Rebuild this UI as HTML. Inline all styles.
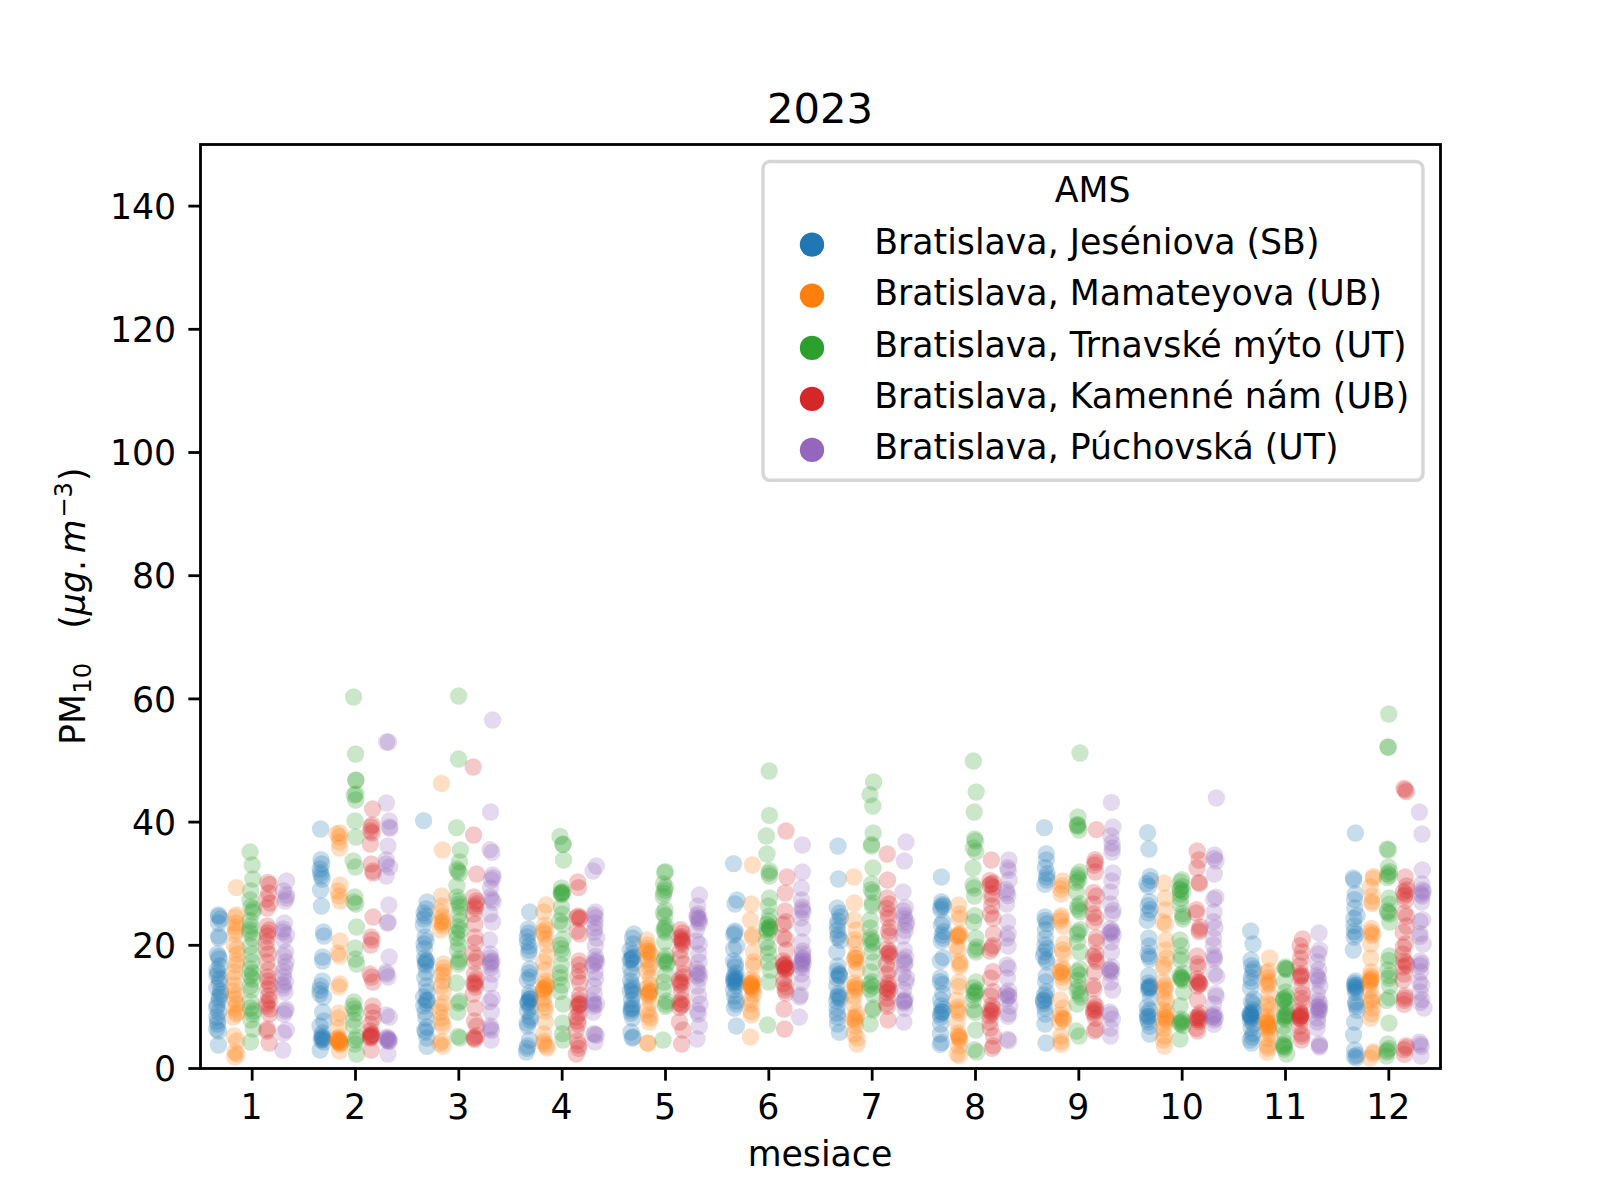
<!DOCTYPE html>
<html lang="sk"><head><meta charset="utf-8"><title>2023</title>
<style>
html,body{margin:0;padding:0;background:#fff}
body{width:1600px;height:1200px;overflow:hidden}
svg{display:block}
text{font-family:"DejaVu Sans","Liberation Sans",sans-serif;fill:#000}
.t{font-size:34.722px}
.d circle{fill-opacity:0.250}
</style></head><body>
<svg width="1600" height="1200" viewBox="0 0 1600 1200">
<rect width="1600" height="1200" fill="#fff"/>
<clipPath id="ax"><rect x="200" y="144" width="1240" height="924"/></clipPath>
<g clip-path="url(#ax)">
<g class="d" fill="#1f77b4"><circle cx="218.4" cy="915.0" r="8.68"/><circle cx="218.8" cy="916.4" r="8.68"/><circle cx="220.3" cy="919.0" r="8.68"/><circle cx="218.5" cy="923.0" r="8.68"/><circle cx="218.6" cy="936.0" r="8.68"/><circle cx="218.9" cy="938.0" r="8.68"/><circle cx="217.3" cy="954.0" r="8.68"/><circle cx="218.6" cy="956.4" r="8.68"/><circle cx="219.1" cy="959.0" r="8.68"/><circle cx="219.8" cy="966.0" r="8.68"/><circle cx="217.0" cy="970.0" r="8.68"/><circle cx="217.8" cy="973.0" r="8.68"/><circle cx="217.0" cy="976.0" r="8.68"/><circle cx="219.8" cy="979.0" r="8.68"/><circle cx="219.4" cy="983.0" r="8.68"/><circle cx="216.8" cy="988.0" r="8.68"/><circle cx="220.5" cy="991.0" r="8.68"/><circle cx="220.5" cy="994.0" r="8.68"/><circle cx="219.2" cy="997.0" r="8.68"/><circle cx="219.1" cy="1000.0" r="8.68"/><circle cx="217.2" cy="1005.0" r="8.68"/><circle cx="216.7" cy="1008.0" r="8.68"/><circle cx="218.7" cy="1012.0" r="8.68"/><circle cx="216.8" cy="1017.0" r="8.68"/><circle cx="217.4" cy="1021.0" r="8.68"/><circle cx="217.6" cy="1024.0" r="8.68"/><circle cx="216.7" cy="1029.0" r="8.68"/><circle cx="218.5" cy="1031.0" r="8.68"/><circle cx="218.4" cy="1045.0" r="8.68"/><circle cx="320.6" cy="829.0" r="8.68"/><circle cx="321.0" cy="859.6" r="8.68"/><circle cx="321.7" cy="864.0" r="8.68"/><circle cx="320.2" cy="869.0" r="8.68"/><circle cx="320.6" cy="873.0" r="8.68"/><circle cx="321.4" cy="876.0" r="8.68"/><circle cx="322.2" cy="879.0" r="8.68"/><circle cx="320.5" cy="890.0" r="8.68"/><circle cx="321.4" cy="906.0" r="8.68"/><circle cx="323.5" cy="932.0" r="8.68"/><circle cx="323.9" cy="936.0" r="8.68"/><circle cx="322.6" cy="957.0" r="8.68"/><circle cx="322.7" cy="961.0" r="8.68"/><circle cx="322.3" cy="981.0" r="8.68"/><circle cx="320.5" cy="986.0" r="8.68"/><circle cx="320.1" cy="990.0" r="8.68"/><circle cx="320.0" cy="994.0" r="8.68"/><circle cx="323.6" cy="997.0" r="8.68"/><circle cx="322.7" cy="1012.0" r="8.68"/><circle cx="323.8" cy="1021.0" r="8.68"/><circle cx="320.0" cy="1026.0" r="8.68"/><circle cx="322.5" cy="1033.0" r="8.68"/><circle cx="321.9" cy="1036.0" r="8.68"/><circle cx="322.9" cy="1038.0" r="8.68"/><circle cx="321.2" cy="1040.0" r="8.68"/><circle cx="323.9" cy="1042.0" r="8.68"/><circle cx="320.2" cy="1050.0" r="8.68"/><circle cx="322.1" cy="1037.6" r="8.68"/><circle cx="322.9" cy="1039.6" r="8.68"/><circle cx="423.6" cy="820.6" r="8.68"/><circle cx="427.1" cy="902.0" r="8.68"/><circle cx="426.0" cy="909.0" r="8.68"/><circle cx="424.1" cy="913.0" r="8.68"/><circle cx="425.2" cy="916.0" r="8.68"/><circle cx="424.0" cy="919.0" r="8.68"/><circle cx="423.3" cy="925.0" r="8.68"/><circle cx="425.2" cy="937.0" r="8.68"/><circle cx="426.1" cy="941.0" r="8.68"/><circle cx="424.0" cy="944.0" r="8.68"/><circle cx="424.4" cy="949.0" r="8.68"/><circle cx="424.6" cy="958.0" r="8.68"/><circle cx="426.1" cy="960.4" r="8.68"/><circle cx="425.3" cy="963.0" r="8.68"/><circle cx="425.7" cy="965.0" r="8.68"/><circle cx="426.3" cy="972.0" r="8.68"/><circle cx="424.8" cy="978.0" r="8.68"/><circle cx="426.4" cy="986.0" r="8.68"/><circle cx="426.9" cy="992.0" r="8.68"/><circle cx="423.6" cy="997.0" r="8.68"/><circle cx="427.0" cy="1000.0" r="8.68"/><circle cx="426.2" cy="1003.0" r="8.68"/><circle cx="423.8" cy="1006.0" r="8.68"/><circle cx="425.1" cy="1012.0" r="8.68"/><circle cx="425.8" cy="1018.0" r="8.68"/><circle cx="426.9" cy="1027.0" r="8.68"/><circle cx="424.8" cy="1030.0" r="8.68"/><circle cx="425.5" cy="1032.0" r="8.68"/><circle cx="426.8" cy="1038.0" r="8.68"/><circle cx="427.0" cy="1046.4" r="8.68"/><circle cx="426.5" cy="961.2" r="8.68"/><circle cx="427.0" cy="1000.4" r="8.68"/><circle cx="529.6" cy="912.0" r="8.68"/><circle cx="528.3" cy="929.0" r="8.68"/><circle cx="528.7" cy="933.0" r="8.68"/><circle cx="527.2" cy="937.0" r="8.68"/><circle cx="527.4" cy="942.0" r="8.68"/><circle cx="529.1" cy="946.0" r="8.68"/><circle cx="529.2" cy="950.0" r="8.68"/><circle cx="528.7" cy="953.0" r="8.68"/><circle cx="530.0" cy="969.0" r="8.68"/><circle cx="529.0" cy="973.0" r="8.68"/><circle cx="530.0" cy="977.0" r="8.68"/><circle cx="527.5" cy="980.0" r="8.68"/><circle cx="529.6" cy="993.0" r="8.68"/><circle cx="529.8" cy="996.4" r="8.68"/><circle cx="530.2" cy="999.0" r="8.68"/><circle cx="527.9" cy="1001.6" r="8.68"/><circle cx="527.9" cy="1004.0" r="8.68"/><circle cx="530.3" cy="1007.0" r="8.68"/><circle cx="527.5" cy="1011.0" r="8.68"/><circle cx="530.6" cy="1017.0" r="8.68"/><circle cx="530.2" cy="1020.0" r="8.68"/><circle cx="527.1" cy="1023.0" r="8.68"/><circle cx="527.6" cy="1026.0" r="8.68"/><circle cx="529.5" cy="1040.0" r="8.68"/><circle cx="527.6" cy="1046.0" r="8.68"/><circle cx="527.0" cy="1048.4" r="8.68"/><circle cx="526.4" cy="1052.0" r="8.68"/><circle cx="529.9" cy="999.0" r="8.68"/><circle cx="528.3" cy="1002.0" r="8.68"/><circle cx="633.9" cy="934.0" r="8.68"/><circle cx="632.5" cy="938.0" r="8.68"/><circle cx="633.2" cy="944.0" r="8.68"/><circle cx="630.2" cy="950.0" r="8.68"/><circle cx="632.3" cy="954.0" r="8.68"/><circle cx="633.0" cy="957.0" r="8.68"/><circle cx="630.1" cy="960.0" r="8.68"/><circle cx="633.7" cy="963.0" r="8.68"/><circle cx="630.6" cy="968.4" r="8.68"/><circle cx="631.8" cy="974.0" r="8.68"/><circle cx="630.6" cy="981.0" r="8.68"/><circle cx="631.9" cy="985.0" r="8.68"/><circle cx="632.4" cy="988.0" r="8.68"/><circle cx="630.2" cy="991.0" r="8.68"/><circle cx="633.7" cy="994.0" r="8.68"/><circle cx="631.6" cy="1000.0" r="8.68"/><circle cx="632.0" cy="1005.0" r="8.68"/><circle cx="632.3" cy="1008.0" r="8.68"/><circle cx="631.4" cy="1010.4" r="8.68"/><circle cx="631.1" cy="1013.0" r="8.68"/><circle cx="632.6" cy="1018.0" r="8.68"/><circle cx="631.0" cy="1032.0" r="8.68"/><circle cx="633.0" cy="1037.0" r="8.68"/><circle cx="632.2" cy="1038.0" r="8.68"/><circle cx="632.2" cy="958.0" r="8.68"/><circle cx="631.1" cy="959.6" r="8.68"/><circle cx="632.8" cy="990.4" r="8.68"/><circle cx="631.1" cy="1008.4" r="8.68"/><circle cx="733.6" cy="863.6" r="8.68"/><circle cx="737.0" cy="900.0" r="8.68"/><circle cx="735.0" cy="904.0" r="8.68"/><circle cx="735.0" cy="931.0" r="8.68"/><circle cx="734.7" cy="933.0" r="8.68"/><circle cx="733.7" cy="935.0" r="8.68"/><circle cx="736.8" cy="946.0" r="8.68"/><circle cx="733.6" cy="949.0" r="8.68"/><circle cx="733.6" cy="961.0" r="8.68"/><circle cx="735.5" cy="964.0" r="8.68"/><circle cx="735.2" cy="967.0" r="8.68"/><circle cx="736.0" cy="973.0" r="8.68"/><circle cx="734.5" cy="976.0" r="8.68"/><circle cx="736.4" cy="978.4" r="8.68"/><circle cx="733.6" cy="981.0" r="8.68"/><circle cx="734.1" cy="983.0" r="8.68"/><circle cx="735.9" cy="985.6" r="8.68"/><circle cx="733.6" cy="990.0" r="8.68"/><circle cx="734.5" cy="996.0" r="8.68"/><circle cx="736.2" cy="1001.0" r="8.68"/><circle cx="736.0" cy="1004.0" r="8.68"/><circle cx="734.4" cy="1008.0" r="8.68"/><circle cx="736.4" cy="1026.0" r="8.68"/><circle cx="733.8" cy="978.0" r="8.68"/><circle cx="734.7" cy="980.0" r="8.68"/><circle cx="736.2" cy="982.0" r="8.68"/><circle cx="838.0" cy="846.0" r="8.68"/><circle cx="838.4" cy="879.0" r="8.68"/><circle cx="837.2" cy="908.0" r="8.68"/><circle cx="839.6" cy="913.0" r="8.68"/><circle cx="840.6" cy="917.0" r="8.68"/><circle cx="838.1" cy="921.0" r="8.68"/><circle cx="837.3" cy="925.0" r="8.68"/><circle cx="837.4" cy="930.0" r="8.68"/><circle cx="838.3" cy="935.0" r="8.68"/><circle cx="837.8" cy="937.6" r="8.68"/><circle cx="840.5" cy="940.4" r="8.68"/><circle cx="836.8" cy="952.0" r="8.68"/><circle cx="837.8" cy="966.0" r="8.68"/><circle cx="837.1" cy="971.0" r="8.68"/><circle cx="839.2" cy="973.6" r="8.68"/><circle cx="839.7" cy="976.0" r="8.68"/><circle cx="837.3" cy="978.4" r="8.68"/><circle cx="836.8" cy="986.0" r="8.68"/><circle cx="838.4" cy="993.6" r="8.68"/><circle cx="838.9" cy="996.0" r="8.68"/><circle cx="840.2" cy="998.4" r="8.68"/><circle cx="836.7" cy="1001.0" r="8.68"/><circle cx="837.0" cy="1008.0" r="8.68"/><circle cx="837.3" cy="1013.0" r="8.68"/><circle cx="837.5" cy="1017.0" r="8.68"/><circle cx="837.5" cy="1024.0" r="8.68"/><circle cx="839.5" cy="1032.4" r="8.68"/><circle cx="839.0" cy="975.0" r="8.68"/><circle cx="837.5" cy="997.0" r="8.68"/><circle cx="941.4" cy="877.0" r="8.68"/><circle cx="941.5" cy="901.6" r="8.68"/><circle cx="942.6" cy="904.4" r="8.68"/><circle cx="941.0" cy="907.0" r="8.68"/><circle cx="940.7" cy="909.6" r="8.68"/><circle cx="942.9" cy="922.0" r="8.68"/><circle cx="941.3" cy="925.0" r="8.68"/><circle cx="943.7" cy="931.6" r="8.68"/><circle cx="942.2" cy="935.0" r="8.68"/><circle cx="942.8" cy="938.0" r="8.68"/><circle cx="941.3" cy="941.0" r="8.68"/><circle cx="943.2" cy="957.6" r="8.68"/><circle cx="940.3" cy="961.0" r="8.68"/><circle cx="940.5" cy="977.6" r="8.68"/><circle cx="940.3" cy="981.6" r="8.68"/><circle cx="942.6" cy="984.4" r="8.68"/><circle cx="942.8" cy="993.6" r="8.68"/><circle cx="940.7" cy="1000.0" r="8.68"/><circle cx="941.5" cy="1005.6" r="8.68"/><circle cx="943.3" cy="1009.0" r="8.68"/><circle cx="942.3" cy="1012.0" r="8.68"/><circle cx="940.3" cy="1014.4" r="8.68"/><circle cx="940.8" cy="1017.0" r="8.68"/><circle cx="940.6" cy="1024.0" r="8.68"/><circle cx="940.4" cy="1034.0" r="8.68"/><circle cx="941.6" cy="1042.4" r="8.68"/><circle cx="940.2" cy="1044.4" r="8.68"/><circle cx="943.6" cy="906.0" r="8.68"/><circle cx="941.6" cy="1012.0" r="8.68"/><circle cx="1044.4" cy="827.6" r="8.68"/><circle cx="1046.3" cy="853.6" r="8.68"/><circle cx="1046.3" cy="860.0" r="8.68"/><circle cx="1045.2" cy="867.6" r="8.68"/><circle cx="1047.2" cy="873.6" r="8.68"/><circle cx="1046.6" cy="877.0" r="8.68"/><circle cx="1046.7" cy="880.0" r="8.68"/><circle cx="1044.9" cy="884.4" r="8.68"/><circle cx="1045.0" cy="917.0" r="8.68"/><circle cx="1045.5" cy="920.4" r="8.68"/><circle cx="1046.9" cy="923.6" r="8.68"/><circle cx="1045.4" cy="930.0" r="8.68"/><circle cx="1045.4" cy="938.0" r="8.68"/><circle cx="1045.0" cy="945.0" r="8.68"/><circle cx="1046.9" cy="948.4" r="8.68"/><circle cx="1044.5" cy="952.0" r="8.68"/><circle cx="1043.5" cy="956.0" r="8.68"/><circle cx="1046.2" cy="959.6" r="8.68"/><circle cx="1046.9" cy="962.0" r="8.68"/><circle cx="1046.2" cy="976.0" r="8.68"/><circle cx="1045.7" cy="982.0" r="8.68"/><circle cx="1046.3" cy="991.6" r="8.68"/><circle cx="1044.5" cy="995.0" r="8.68"/><circle cx="1045.6" cy="998.0" r="8.68"/><circle cx="1043.5" cy="1001.0" r="8.68"/><circle cx="1043.8" cy="1003.6" r="8.68"/><circle cx="1045.1" cy="1008.4" r="8.68"/><circle cx="1045.3" cy="1014.0" r="8.68"/><circle cx="1044.9" cy="1024.0" r="8.68"/><circle cx="1046.0" cy="1043.0" r="8.68"/><circle cx="1043.5" cy="1000.0" r="8.68"/><circle cx="1147.6" cy="832.6" r="8.68"/><circle cx="1149.0" cy="849.0" r="8.68"/><circle cx="1150.2" cy="876.4" r="8.68"/><circle cx="1150.6" cy="880.4" r="8.68"/><circle cx="1146.7" cy="883.6" r="8.68"/><circle cx="1148.4" cy="886.4" r="8.68"/><circle cx="1149.6" cy="901.6" r="8.68"/><circle cx="1148.1" cy="905.6" r="8.68"/><circle cx="1150.3" cy="909.6" r="8.68"/><circle cx="1148.6" cy="913.0" r="8.68"/><circle cx="1147.3" cy="920.4" r="8.68"/><circle cx="1148.8" cy="938.0" r="8.68"/><circle cx="1149.2" cy="946.0" r="8.68"/><circle cx="1148.0" cy="953.6" r="8.68"/><circle cx="1149.2" cy="956.4" r="8.68"/><circle cx="1149.7" cy="959.0" r="8.68"/><circle cx="1148.7" cy="975.6" r="8.68"/><circle cx="1148.6" cy="983.0" r="8.68"/><circle cx="1150.0" cy="985.6" r="8.68"/><circle cx="1149.3" cy="988.0" r="8.68"/><circle cx="1148.7" cy="990.4" r="8.68"/><circle cx="1150.4" cy="998.0" r="8.68"/><circle cx="1147.3" cy="1007.0" r="8.68"/><circle cx="1149.7" cy="1010.4" r="8.68"/><circle cx="1147.3" cy="1013.6" r="8.68"/><circle cx="1149.0" cy="1016.4" r="8.68"/><circle cx="1147.5" cy="1019.0" r="8.68"/><circle cx="1148.4" cy="1022.0" r="8.68"/><circle cx="1149.7" cy="1026.4" r="8.68"/><circle cx="1149.7" cy="1034.0" r="8.68"/><circle cx="1149.8" cy="987.0" r="8.68"/><circle cx="1147.5" cy="1016.4" r="8.68"/><circle cx="1148.6" cy="987.6" r="8.68"/><circle cx="1250.7" cy="931.0" r="8.68"/><circle cx="1253.0" cy="944.0" r="8.68"/><circle cx="1251.0" cy="960.0" r="8.68"/><circle cx="1251.5" cy="965.6" r="8.68"/><circle cx="1253.6" cy="969.0" r="8.68"/><circle cx="1252.8" cy="972.0" r="8.68"/><circle cx="1251.0" cy="977.6" r="8.68"/><circle cx="1251.4" cy="981.6" r="8.68"/><circle cx="1250.5" cy="988.0" r="8.68"/><circle cx="1253.7" cy="999.0" r="8.68"/><circle cx="1251.4" cy="1002.0" r="8.68"/><circle cx="1253.0" cy="1004.4" r="8.68"/><circle cx="1252.8" cy="1009.6" r="8.68"/><circle cx="1253.6" cy="1012.0" r="8.68"/><circle cx="1250.0" cy="1014.0" r="8.68"/><circle cx="1251.2" cy="1016.0" r="8.68"/><circle cx="1251.5" cy="1018.0" r="8.68"/><circle cx="1250.3" cy="1020.4" r="8.68"/><circle cx="1253.5" cy="1024.0" r="8.68"/><circle cx="1251.2" cy="1028.0" r="8.68"/><circle cx="1253.0" cy="1033.6" r="8.68"/><circle cx="1252.0" cy="1037.0" r="8.68"/><circle cx="1250.2" cy="1040.0" r="8.68"/><circle cx="1251.5" cy="1043.0" r="8.68"/><circle cx="1250.9" cy="1013.0" r="8.68"/><circle cx="1250.1" cy="1015.0" r="8.68"/><circle cx="1250.5" cy="1017.0" r="8.68"/><circle cx="1355.4" cy="833.0" r="8.68"/><circle cx="1353.4" cy="878.0" r="8.68"/><circle cx="1353.8" cy="880.0" r="8.68"/><circle cx="1355.3" cy="894.0" r="8.68"/><circle cx="1354.5" cy="899.6" r="8.68"/><circle cx="1354.7" cy="908.0" r="8.68"/><circle cx="1357.2" cy="915.6" r="8.68"/><circle cx="1353.9" cy="918.4" r="8.68"/><circle cx="1354.0" cy="925.6" r="8.68"/><circle cx="1354.2" cy="931.6" r="8.68"/><circle cx="1356.0" cy="934.4" r="8.68"/><circle cx="1354.2" cy="937.2" r="8.68"/><circle cx="1353.3" cy="950.0" r="8.68"/><circle cx="1355.4" cy="981.0" r="8.68"/><circle cx="1354.8" cy="983.2" r="8.68"/><circle cx="1354.2" cy="985.4" r="8.68"/><circle cx="1355.2" cy="987.6" r="8.68"/><circle cx="1355.9" cy="989.6" r="8.68"/><circle cx="1355.5" cy="992.4" r="8.68"/><circle cx="1355.8" cy="1001.6" r="8.68"/><circle cx="1355.5" cy="1004.0" r="8.68"/><circle cx="1356.6" cy="1006.4" r="8.68"/><circle cx="1357.1" cy="1010.4" r="8.68"/><circle cx="1354.6" cy="1022.0" r="8.68"/><circle cx="1353.6" cy="1035.0" r="8.68"/><circle cx="1354.7" cy="1050.0" r="8.68"/><circle cx="1356.8" cy="1055.0" r="8.68"/><circle cx="1354.5" cy="1056.4" r="8.68"/><circle cx="1356.1" cy="1058.0" r="8.68"/><circle cx="1356.0" cy="985.0" r="8.68"/><circle cx="1356.0" cy="987.0" r="8.68"/></g>
<g class="d" fill="#ff7f0e"><circle cx="236.4" cy="887.6" r="8.68"/><circle cx="236.5" cy="915.0" r="8.68"/><circle cx="235.2" cy="917.0" r="8.68"/><circle cx="235.7" cy="923.0" r="8.68"/><circle cx="235.1" cy="927.0" r="8.68"/><circle cx="235.8" cy="931.0" r="8.68"/><circle cx="235.0" cy="934.0" r="8.68"/><circle cx="234.2" cy="945.0" r="8.68"/><circle cx="237.1" cy="949.0" r="8.68"/><circle cx="237.1" cy="954.0" r="8.68"/><circle cx="236.5" cy="961.0" r="8.68"/><circle cx="236.0" cy="965.0" r="8.68"/><circle cx="234.4" cy="972.0" r="8.68"/><circle cx="234.1" cy="978.0" r="8.68"/><circle cx="234.3" cy="985.0" r="8.68"/><circle cx="233.4" cy="991.0" r="8.68"/><circle cx="236.2" cy="995.0" r="8.68"/><circle cx="234.7" cy="999.0" r="8.68"/><circle cx="236.5" cy="1004.0" r="8.68"/><circle cx="234.7" cy="1008.0" r="8.68"/><circle cx="237.0" cy="1012.0" r="8.68"/><circle cx="236.5" cy="1014.0" r="8.68"/><circle cx="233.1" cy="1017.0" r="8.68"/><circle cx="234.0" cy="1036.0" r="8.68"/><circle cx="236.8" cy="1041.0" r="8.68"/><circle cx="235.0" cy="1052.0" r="8.68"/><circle cx="237.1" cy="1054.0" r="8.68"/><circle cx="234.7" cy="1057.0" r="8.68"/><circle cx="340.1" cy="833.0" r="8.68"/><circle cx="339.4" cy="837.0" r="8.68"/><circle cx="339.3" cy="842.0" r="8.68"/><circle cx="339.6" cy="848.0" r="8.68"/><circle cx="340.1" cy="885.0" r="8.68"/><circle cx="337.9" cy="891.0" r="8.68"/><circle cx="339.2" cy="896.0" r="8.68"/><circle cx="340.1" cy="901.0" r="8.68"/><circle cx="340.0" cy="941.0" r="8.68"/><circle cx="338.1" cy="953.0" r="8.68"/><circle cx="339.6" cy="956.0" r="8.68"/><circle cx="339.9" cy="984.0" r="8.68"/><circle cx="338.8" cy="987.0" r="8.68"/><circle cx="339.0" cy="1013.0" r="8.68"/><circle cx="338.0" cy="1018.0" r="8.68"/><circle cx="338.8" cy="1028.0" r="8.68"/><circle cx="338.9" cy="1037.0" r="8.68"/><circle cx="336.8" cy="1039.0" r="8.68"/><circle cx="339.0" cy="1041.0" r="8.68"/><circle cx="340.4" cy="1043.0" r="8.68"/><circle cx="340.0" cy="1044.0" r="8.68"/><circle cx="339.4" cy="1051.0" r="8.68"/><circle cx="338.0" cy="1039.0" r="8.68"/><circle cx="339.4" cy="1040.0" r="8.68"/><circle cx="338.8" cy="1041.0" r="8.68"/><circle cx="338.2" cy="1042.0" r="8.68"/><circle cx="339.8" cy="1043.0" r="8.68"/><circle cx="336.8" cy="833.6" r="8.68"/><circle cx="441.4" cy="783.4" r="8.68"/><circle cx="442.4" cy="850.0" r="8.68"/><circle cx="441.7" cy="896.0" r="8.68"/><circle cx="442.4" cy="906.0" r="8.68"/><circle cx="440.6" cy="912.0" r="8.68"/><circle cx="442.7" cy="917.0" r="8.68"/><circle cx="443.1" cy="921.0" r="8.68"/><circle cx="442.4" cy="923.0" r="8.68"/><circle cx="442.7" cy="926.0" r="8.68"/><circle cx="440.7" cy="930.0" r="8.68"/><circle cx="443.4" cy="964.0" r="8.68"/><circle cx="443.7" cy="968.0" r="8.68"/><circle cx="443.7" cy="972.0" r="8.68"/><circle cx="441.9" cy="975.0" r="8.68"/><circle cx="443.0" cy="981.0" r="8.68"/><circle cx="441.1" cy="986.0" r="8.68"/><circle cx="443.4" cy="992.0" r="8.68"/><circle cx="443.2" cy="1003.0" r="8.68"/><circle cx="441.2" cy="1007.0" r="8.68"/><circle cx="440.1" cy="1012.0" r="8.68"/><circle cx="441.6" cy="1018.0" r="8.68"/><circle cx="442.0" cy="1023.0" r="8.68"/><circle cx="442.9" cy="1026.0" r="8.68"/><circle cx="441.7" cy="1041.0" r="8.68"/><circle cx="439.9" cy="1043.6" r="8.68"/><circle cx="443.0" cy="1046.0" r="8.68"/><circle cx="440.1" cy="922.4" r="8.68"/><circle cx="546.3" cy="905.0" r="8.68"/><circle cx="543.6" cy="912.0" r="8.68"/><circle cx="544.7" cy="925.0" r="8.68"/><circle cx="545.9" cy="929.0" r="8.68"/><circle cx="543.2" cy="931.6" r="8.68"/><circle cx="543.9" cy="934.0" r="8.68"/><circle cx="545.9" cy="939.0" r="8.68"/><circle cx="546.8" cy="945.0" r="8.68"/><circle cx="547.0" cy="956.0" r="8.68"/><circle cx="543.6" cy="962.0" r="8.68"/><circle cx="545.2" cy="970.0" r="8.68"/><circle cx="546.2" cy="981.0" r="8.68"/><circle cx="545.1" cy="984.0" r="8.68"/><circle cx="545.9" cy="986.4" r="8.68"/><circle cx="543.9" cy="989.0" r="8.68"/><circle cx="543.4" cy="992.0" r="8.68"/><circle cx="543.6" cy="998.0" r="8.68"/><circle cx="543.3" cy="1003.6" r="8.68"/><circle cx="545.3" cy="1007.0" r="8.68"/><circle cx="545.2" cy="1011.0" r="8.68"/><circle cx="545.4" cy="1022.0" r="8.68"/><circle cx="543.7" cy="1034.0" r="8.68"/><circle cx="543.9" cy="1041.0" r="8.68"/><circle cx="543.9" cy="1043.6" r="8.68"/><circle cx="546.5" cy="1046.0" r="8.68"/><circle cx="547.1" cy="1048.0" r="8.68"/><circle cx="546.8" cy="986.4" r="8.68"/><circle cx="543.5" cy="988.4" r="8.68"/><circle cx="543.4" cy="990.4" r="8.68"/><circle cx="646.5" cy="940.0" r="8.68"/><circle cx="647.4" cy="945.0" r="8.68"/><circle cx="646.6" cy="948.4" r="8.68"/><circle cx="647.1" cy="951.6" r="8.68"/><circle cx="649.5" cy="954.4" r="8.68"/><circle cx="648.0" cy="960.0" r="8.68"/><circle cx="650.1" cy="964.0" r="8.68"/><circle cx="649.5" cy="967.6" r="8.68"/><circle cx="646.7" cy="971.0" r="8.68"/><circle cx="650.4" cy="978.4" r="8.68"/><circle cx="650.2" cy="985.0" r="8.68"/><circle cx="646.8" cy="988.4" r="8.68"/><circle cx="650.1" cy="991.0" r="8.68"/><circle cx="648.2" cy="993.6" r="8.68"/><circle cx="648.4" cy="996.0" r="8.68"/><circle cx="650.4" cy="1002.0" r="8.68"/><circle cx="647.4" cy="1010.0" r="8.68"/><circle cx="648.6" cy="1015.0" r="8.68"/><circle cx="650.2" cy="1018.0" r="8.68"/><circle cx="649.4" cy="1022.0" r="8.68"/><circle cx="647.6" cy="1043.0" r="8.68"/><circle cx="648.0" cy="1043.2" r="8.68"/><circle cx="648.3" cy="951.0" r="8.68"/><circle cx="650.4" cy="953.0" r="8.68"/><circle cx="649.7" cy="991.6" r="8.68"/><circle cx="648.9" cy="993.6" r="8.68"/><circle cx="752.4" cy="865.0" r="8.68"/><circle cx="751.3" cy="904.0" r="8.68"/><circle cx="750.3" cy="920.0" r="8.68"/><circle cx="752.6" cy="935.0" r="8.68"/><circle cx="752.1" cy="937.0" r="8.68"/><circle cx="753.5" cy="952.0" r="8.68"/><circle cx="753.6" cy="962.0" r="8.68"/><circle cx="753.5" cy="966.0" r="8.68"/><circle cx="751.6" cy="979.0" r="8.68"/><circle cx="753.0" cy="981.6" r="8.68"/><circle cx="751.0" cy="983.6" r="8.68"/><circle cx="751.1" cy="985.6" r="8.68"/><circle cx="751.4" cy="987.6" r="8.68"/><circle cx="753.5" cy="989.6" r="8.68"/><circle cx="753.4" cy="994.0" r="8.68"/><circle cx="750.8" cy="999.6" r="8.68"/><circle cx="751.2" cy="1004.0" r="8.68"/><circle cx="751.3" cy="1011.6" r="8.68"/><circle cx="751.3" cy="1015.0" r="8.68"/><circle cx="750.4" cy="1037.0" r="8.68"/><circle cx="751.4" cy="983.0" r="8.68"/><circle cx="751.4" cy="984.4" r="8.68"/><circle cx="750.6" cy="986.0" r="8.68"/><circle cx="752.1" cy="987.6" r="8.68"/><circle cx="853.9" cy="877.0" r="8.68"/><circle cx="854.3" cy="903.0" r="8.68"/><circle cx="853.8" cy="920.0" r="8.68"/><circle cx="856.2" cy="930.0" r="8.68"/><circle cx="854.4" cy="939.6" r="8.68"/><circle cx="855.3" cy="943.6" r="8.68"/><circle cx="856.4" cy="955.0" r="8.68"/><circle cx="855.1" cy="957.6" r="8.68"/><circle cx="854.2" cy="960.0" r="8.68"/><circle cx="856.7" cy="962.4" r="8.68"/><circle cx="856.8" cy="970.0" r="8.68"/><circle cx="854.5" cy="983.0" r="8.68"/><circle cx="855.3" cy="985.6" r="8.68"/><circle cx="857.0" cy="988.0" r="8.68"/><circle cx="855.1" cy="990.0" r="8.68"/><circle cx="854.0" cy="996.4" r="8.68"/><circle cx="853.3" cy="1004.0" r="8.68"/><circle cx="856.9" cy="1013.0" r="8.68"/><circle cx="856.3" cy="1016.4" r="8.68"/><circle cx="854.7" cy="1019.0" r="8.68"/><circle cx="855.2" cy="1021.6" r="8.68"/><circle cx="855.2" cy="1026.0" r="8.68"/><circle cx="854.2" cy="1034.0" r="8.68"/><circle cx="857.1" cy="1038.0" r="8.68"/><circle cx="857.0" cy="1044.0" r="8.68"/><circle cx="855.8" cy="958.4" r="8.68"/><circle cx="854.1" cy="987.2" r="8.68"/><circle cx="853.2" cy="1018.0" r="8.68"/><circle cx="958.5" cy="905.0" r="8.68"/><circle cx="959.1" cy="914.0" r="8.68"/><circle cx="959.5" cy="918.4" r="8.68"/><circle cx="959.8" cy="933.6" r="8.68"/><circle cx="958.0" cy="934.8" r="8.68"/><circle cx="957.8" cy="936.0" r="8.68"/><circle cx="958.1" cy="937.2" r="8.68"/><circle cx="956.5" cy="946.0" r="8.68"/><circle cx="958.1" cy="950.4" r="8.68"/><circle cx="959.3" cy="961.6" r="8.68"/><circle cx="960.4" cy="964.0" r="8.68"/><circle cx="959.6" cy="966.4" r="8.68"/><circle cx="959.1" cy="982.0" r="8.68"/><circle cx="958.9" cy="986.4" r="8.68"/><circle cx="956.5" cy="1000.0" r="8.68"/><circle cx="957.8" cy="1007.0" r="8.68"/><circle cx="957.8" cy="1010.0" r="8.68"/><circle cx="959.1" cy="1013.0" r="8.68"/><circle cx="956.9" cy="1022.0" r="8.68"/><circle cx="958.0" cy="1033.0" r="8.68"/><circle cx="958.5" cy="1035.6" r="8.68"/><circle cx="959.6" cy="1038.0" r="8.68"/><circle cx="959.8" cy="1040.0" r="8.68"/><circle cx="958.9" cy="1046.0" r="8.68"/><circle cx="957.1" cy="1054.0" r="8.68"/><circle cx="959.5" cy="1055.6" r="8.68"/><circle cx="960.1" cy="935.2" r="8.68"/><circle cx="958.7" cy="1037.0" r="8.68"/><circle cx="1062.6" cy="881.0" r="8.68"/><circle cx="1061.9" cy="885.6" r="8.68"/><circle cx="1060.8" cy="889.0" r="8.68"/><circle cx="1061.0" cy="894.0" r="8.68"/><circle cx="1061.4" cy="915.6" r="8.68"/><circle cx="1060.7" cy="918.0" r="8.68"/><circle cx="1060.1" cy="921.0" r="8.68"/><circle cx="1063.4" cy="926.4" r="8.68"/><circle cx="1063.7" cy="943.6" r="8.68"/><circle cx="1062.5" cy="950.0" r="8.68"/><circle cx="1063.3" cy="954.0" r="8.68"/><circle cx="1061.5" cy="967.0" r="8.68"/><circle cx="1063.0" cy="969.6" r="8.68"/><circle cx="1060.7" cy="972.0" r="8.68"/><circle cx="1062.8" cy="974.4" r="8.68"/><circle cx="1062.1" cy="977.0" r="8.68"/><circle cx="1063.4" cy="982.4" r="8.68"/><circle cx="1060.2" cy="1000.0" r="8.68"/><circle cx="1063.0" cy="1008.0" r="8.68"/><circle cx="1060.3" cy="1015.0" r="8.68"/><circle cx="1062.0" cy="1017.6" r="8.68"/><circle cx="1063.6" cy="1020.0" r="8.68"/><circle cx="1059.8" cy="1022.0" r="8.68"/><circle cx="1060.8" cy="1036.0" r="8.68"/><circle cx="1061.0" cy="1041.6" r="8.68"/><circle cx="1061.1" cy="1044.4" r="8.68"/><circle cx="1060.1" cy="972.0" r="8.68"/><circle cx="1063.4" cy="1019.0" r="8.68"/><circle cx="1164.0" cy="883.0" r="8.68"/><circle cx="1165.5" cy="898.0" r="8.68"/><circle cx="1165.1" cy="910.0" r="8.68"/><circle cx="1163.3" cy="922.0" r="8.68"/><circle cx="1165.5" cy="924.0" r="8.68"/><circle cx="1166.0" cy="940.0" r="8.68"/><circle cx="1165.4" cy="950.0" r="8.68"/><circle cx="1166.6" cy="958.0" r="8.68"/><circle cx="1163.9" cy="965.0" r="8.68"/><circle cx="1163.7" cy="967.6" r="8.68"/><circle cx="1163.2" cy="981.6" r="8.68"/><circle cx="1165.1" cy="985.0" r="8.68"/><circle cx="1164.9" cy="988.0" r="8.68"/><circle cx="1164.9" cy="991.0" r="8.68"/><circle cx="1164.2" cy="998.0" r="8.68"/><circle cx="1166.3" cy="1002.0" r="8.68"/><circle cx="1163.4" cy="1009.6" r="8.68"/><circle cx="1166.8" cy="1012.4" r="8.68"/><circle cx="1165.4" cy="1015.2" r="8.68"/><circle cx="1165.3" cy="1018.0" r="8.68"/><circle cx="1166.3" cy="1020.8" r="8.68"/><circle cx="1164.1" cy="1023.6" r="8.68"/><circle cx="1163.7" cy="1028.4" r="8.68"/><circle cx="1164.4" cy="1036.0" r="8.68"/><circle cx="1163.3" cy="1040.0" r="8.68"/><circle cx="1164.4" cy="1046.0" r="8.68"/><circle cx="1165.6" cy="1018.0" r="8.68"/><circle cx="1269.6" cy="958.0" r="8.68"/><circle cx="1268.8" cy="971.0" r="8.68"/><circle cx="1266.6" cy="973.0" r="8.68"/><circle cx="1267.7" cy="978.0" r="8.68"/><circle cx="1268.2" cy="981.6" r="8.68"/><circle cx="1268.6" cy="983.6" r="8.68"/><circle cx="1267.0" cy="985.6" r="8.68"/><circle cx="1269.3" cy="994.0" r="8.68"/><circle cx="1267.5" cy="1003.0" r="8.68"/><circle cx="1269.4" cy="1005.2" r="8.68"/><circle cx="1269.1" cy="1010.0" r="8.68"/><circle cx="1267.1" cy="1017.0" r="8.68"/><circle cx="1267.3" cy="1020.0" r="8.68"/><circle cx="1267.6" cy="1022.4" r="8.68"/><circle cx="1269.3" cy="1025.0" r="8.68"/><circle cx="1268.1" cy="1027.6" r="8.68"/><circle cx="1268.0" cy="1030.0" r="8.68"/><circle cx="1269.9" cy="1034.0" r="8.68"/><circle cx="1267.4" cy="1038.4" r="8.68"/><circle cx="1267.6" cy="1045.6" r="8.68"/><circle cx="1267.8" cy="1048.0" r="8.68"/><circle cx="1267.3" cy="1052.0" r="8.68"/><circle cx="1266.6" cy="1024.0" r="8.68"/><circle cx="1266.6" cy="1022.0" r="8.68"/><circle cx="1269.0" cy="1026.4" r="8.68"/><circle cx="1373.7" cy="876.4" r="8.68"/><circle cx="1373.1" cy="878.4" r="8.68"/><circle cx="1370.4" cy="887.0" r="8.68"/><circle cx="1372.3" cy="896.0" r="8.68"/><circle cx="1371.8" cy="901.6" r="8.68"/><circle cx="1372.1" cy="903.6" r="8.68"/><circle cx="1371.3" cy="928.4" r="8.68"/><circle cx="1370.9" cy="931.6" r="8.68"/><circle cx="1372.8" cy="933.6" r="8.68"/><circle cx="1371.9" cy="935.6" r="8.68"/><circle cx="1370.7" cy="944.0" r="8.68"/><circle cx="1370.8" cy="958.0" r="8.68"/><circle cx="1371.1" cy="972.0" r="8.68"/><circle cx="1370.5" cy="976.0" r="8.68"/><circle cx="1371.9" cy="978.0" r="8.68"/><circle cx="1370.3" cy="980.0" r="8.68"/><circle cx="1370.1" cy="982.0" r="8.68"/><circle cx="1370.1" cy="984.0" r="8.68"/><circle cx="1370.2" cy="990.4" r="8.68"/><circle cx="1372.6" cy="997.6" r="8.68"/><circle cx="1370.3" cy="1000.0" r="8.68"/><circle cx="1371.6" cy="1002.4" r="8.68"/><circle cx="1372.9" cy="1008.0" r="8.68"/><circle cx="1371.7" cy="1014.0" r="8.68"/><circle cx="1370.5" cy="1018.4" r="8.68"/><circle cx="1373.3" cy="1051.6" r="8.68"/><circle cx="1373.3" cy="1053.6" r="8.68"/><circle cx="1370.0" cy="1058.0" r="8.68"/><circle cx="1370.8" cy="980.0" r="8.68"/></g>
<g class="d" fill="#2ca02c"><circle cx="250.0" cy="852.0" r="8.68"/><circle cx="252.2" cy="865.0" r="8.68"/><circle cx="252.8" cy="879.0" r="8.68"/><circle cx="250.7" cy="891.0" r="8.68"/><circle cx="250.0" cy="900.0" r="8.68"/><circle cx="251.0" cy="907.0" r="8.68"/><circle cx="253.5" cy="909.0" r="8.68"/><circle cx="252.7" cy="912.0" r="8.68"/><circle cx="250.1" cy="921.0" r="8.68"/><circle cx="250.7" cy="926.0" r="8.68"/><circle cx="250.1" cy="930.0" r="8.68"/><circle cx="249.9" cy="933.0" r="8.68"/><circle cx="252.9" cy="938.0" r="8.68"/><circle cx="250.4" cy="946.0" r="8.68"/><circle cx="251.9" cy="954.0" r="8.68"/><circle cx="251.5" cy="962.0" r="8.68"/><circle cx="250.4" cy="969.0" r="8.68"/><circle cx="252.6" cy="973.0" r="8.68"/><circle cx="250.2" cy="976.0" r="8.68"/><circle cx="252.2" cy="979.0" r="8.68"/><circle cx="250.1" cy="986.0" r="8.68"/><circle cx="251.3" cy="990.0" r="8.68"/><circle cx="250.5" cy="1002.0" r="8.68"/><circle cx="250.7" cy="1008.0" r="8.68"/><circle cx="253.6" cy="1011.0" r="8.68"/><circle cx="252.9" cy="1014.0" r="8.68"/><circle cx="250.9" cy="1020.0" r="8.68"/><circle cx="253.2" cy="1029.0" r="8.68"/><circle cx="250.5" cy="1042.0" r="8.68"/><circle cx="353.6" cy="697.0" r="8.68"/><circle cx="355.6" cy="754.0" r="8.68"/><circle cx="355.8" cy="780.0" r="8.68"/><circle cx="356.0" cy="780.4" r="8.68"/><circle cx="356.0" cy="794.0" r="8.68"/><circle cx="354.2" cy="795.0" r="8.68"/><circle cx="355.6" cy="800.0" r="8.68"/><circle cx="355.0" cy="821.0" r="8.68"/><circle cx="356.0" cy="837.0" r="8.68"/><circle cx="353.1" cy="861.0" r="8.68"/><circle cx="355.4" cy="867.0" r="8.68"/><circle cx="354.9" cy="897.0" r="8.68"/><circle cx="353.9" cy="902.0" r="8.68"/><circle cx="355.8" cy="904.0" r="8.68"/><circle cx="356.6" cy="927.0" r="8.68"/><circle cx="355.0" cy="948.0" r="8.68"/><circle cx="355.5" cy="959.0" r="8.68"/><circle cx="356.7" cy="964.0" r="8.68"/><circle cx="354.0" cy="1002.0" r="8.68"/><circle cx="353.0" cy="1006.0" r="8.68"/><circle cx="354.2" cy="1009.0" r="8.68"/><circle cx="355.7" cy="1013.0" r="8.68"/><circle cx="353.8" cy="1020.0" r="8.68"/><circle cx="353.7" cy="1026.0" r="8.68"/><circle cx="356.6" cy="1037.0" r="8.68"/><circle cx="355.6" cy="1040.0" r="8.68"/><circle cx="354.8" cy="1044.0" r="8.68"/><circle cx="356.6" cy="1054.0" r="8.68"/><circle cx="458.6" cy="696.0" r="8.68"/><circle cx="458.6" cy="759.0" r="8.68"/><circle cx="456.6" cy="827.6" r="8.68"/><circle cx="460.4" cy="850.0" r="8.68"/><circle cx="459.5" cy="862.0" r="8.68"/><circle cx="457.0" cy="869.0" r="8.68"/><circle cx="457.7" cy="871.0" r="8.68"/><circle cx="459.5" cy="873.0" r="8.68"/><circle cx="456.9" cy="886.0" r="8.68"/><circle cx="456.9" cy="897.0" r="8.68"/><circle cx="458.4" cy="901.0" r="8.68"/><circle cx="459.2" cy="904.0" r="8.68"/><circle cx="459.7" cy="907.0" r="8.68"/><circle cx="459.1" cy="914.0" r="8.68"/><circle cx="460.1" cy="921.0" r="8.68"/><circle cx="458.3" cy="927.0" r="8.68"/><circle cx="460.1" cy="930.0" r="8.68"/><circle cx="456.7" cy="933.0" r="8.68"/><circle cx="457.2" cy="938.0" r="8.68"/><circle cx="458.4" cy="944.0" r="8.68"/><circle cx="457.5" cy="950.0" r="8.68"/><circle cx="459.2" cy="959.0" r="8.68"/><circle cx="458.9" cy="961.6" r="8.68"/><circle cx="458.4" cy="964.0" r="8.68"/><circle cx="456.4" cy="983.0" r="8.68"/><circle cx="459.7" cy="1001.0" r="8.68"/><circle cx="458.6" cy="1003.0" r="8.68"/><circle cx="457.6" cy="1012.0" r="8.68"/><circle cx="457.9" cy="1036.4" r="8.68"/><circle cx="459.7" cy="1038.0" r="8.68"/><circle cx="560.0" cy="836.4" r="8.68"/><circle cx="563.2" cy="844.0" r="8.68"/><circle cx="562.8" cy="844.6" r="8.68"/><circle cx="563.5" cy="860.0" r="8.68"/><circle cx="561.5" cy="888.0" r="8.68"/><circle cx="562.7" cy="891.6" r="8.68"/><circle cx="561.0" cy="892.6" r="8.68"/><circle cx="561.5" cy="893.6" r="8.68"/><circle cx="561.7" cy="894.6" r="8.68"/><circle cx="561.4" cy="907.0" r="8.68"/><circle cx="562.1" cy="914.0" r="8.68"/><circle cx="559.7" cy="921.0" r="8.68"/><circle cx="562.5" cy="924.4" r="8.68"/><circle cx="563.0" cy="939.0" r="8.68"/><circle cx="560.4" cy="945.0" r="8.68"/><circle cx="561.5" cy="949.0" r="8.68"/><circle cx="562.6" cy="953.6" r="8.68"/><circle cx="561.3" cy="965.0" r="8.68"/><circle cx="560.4" cy="973.0" r="8.68"/><circle cx="560.3" cy="977.6" r="8.68"/><circle cx="561.7" cy="985.0" r="8.68"/><circle cx="559.7" cy="991.6" r="8.68"/><circle cx="563.2" cy="1004.0" r="8.68"/><circle cx="562.9" cy="1023.0" r="8.68"/><circle cx="562.5" cy="1033.6" r="8.68"/><circle cx="563.1" cy="1040.0" r="8.68"/><circle cx="562.2" cy="892.8" r="8.68"/><circle cx="665.4" cy="871.6" r="8.68"/><circle cx="664.6" cy="872.4" r="8.68"/><circle cx="663.5" cy="883.6" r="8.68"/><circle cx="665.5" cy="887.0" r="8.68"/><circle cx="664.8" cy="890.0" r="8.68"/><circle cx="663.8" cy="893.0" r="8.68"/><circle cx="663.2" cy="896.4" r="8.68"/><circle cx="665.1" cy="909.6" r="8.68"/><circle cx="663.5" cy="913.0" r="8.68"/><circle cx="664.8" cy="916.0" r="8.68"/><circle cx="665.7" cy="925.6" r="8.68"/><circle cx="664.8" cy="928.0" r="8.68"/><circle cx="664.0" cy="930.0" r="8.68"/><circle cx="665.3" cy="932.0" r="8.68"/><circle cx="664.7" cy="942.0" r="8.68"/><circle cx="666.1" cy="955.6" r="8.68"/><circle cx="665.1" cy="959.0" r="8.68"/><circle cx="667.0" cy="962.0" r="8.68"/><circle cx="666.8" cy="964.0" r="8.68"/><circle cx="665.9" cy="974.0" r="8.68"/><circle cx="664.0" cy="982.0" r="8.68"/><circle cx="663.5" cy="990.0" r="8.68"/><circle cx="666.6" cy="1001.0" r="8.68"/><circle cx="666.1" cy="1004.0" r="8.68"/><circle cx="665.5" cy="1006.4" r="8.68"/><circle cx="663.0" cy="1040.0" r="8.68"/><circle cx="664.4" cy="961.2" r="8.68"/><circle cx="769.2" cy="771.0" r="8.68"/><circle cx="769.4" cy="815.4" r="8.68"/><circle cx="766.4" cy="836.0" r="8.68"/><circle cx="767.0" cy="854.0" r="8.68"/><circle cx="769.6" cy="870.8" r="8.68"/><circle cx="769.0" cy="873.2" r="8.68"/><circle cx="769.6" cy="876.0" r="8.68"/><circle cx="769.5" cy="898.0" r="8.68"/><circle cx="768.5" cy="906.0" r="8.68"/><circle cx="769.7" cy="916.0" r="8.68"/><circle cx="768.6" cy="921.0" r="8.68"/><circle cx="767.0" cy="924.4" r="8.68"/><circle cx="769.4" cy="927.0" r="8.68"/><circle cx="769.9" cy="929.6" r="8.68"/><circle cx="767.5" cy="932.0" r="8.68"/><circle cx="766.4" cy="942.0" r="8.68"/><circle cx="768.4" cy="947.6" r="8.68"/><circle cx="768.5" cy="953.6" r="8.68"/><circle cx="768.6" cy="962.0" r="8.68"/><circle cx="770.2" cy="970.0" r="8.68"/><circle cx="768.9" cy="982.0" r="8.68"/><circle cx="767.6" cy="1025.0" r="8.68"/><circle cx="769.6" cy="927.6" r="8.68"/><circle cx="766.6" cy="929.2" r="8.68"/><circle cx="873.6" cy="782.0" r="8.68"/><circle cx="870.0" cy="794.6" r="8.68"/><circle cx="872.8" cy="806.0" r="8.68"/><circle cx="873.2" cy="833.0" r="8.68"/><circle cx="871.6" cy="844.4" r="8.68"/><circle cx="871.4" cy="846.0" r="8.68"/><circle cx="873.0" cy="868.0" r="8.68"/><circle cx="871.6" cy="884.0" r="8.68"/><circle cx="871.2" cy="889.6" r="8.68"/><circle cx="872.9" cy="892.4" r="8.68"/><circle cx="872.5" cy="903.0" r="8.68"/><circle cx="872.1" cy="905.6" r="8.68"/><circle cx="870.3" cy="920.0" r="8.68"/><circle cx="870.3" cy="928.0" r="8.68"/><circle cx="871.0" cy="937.0" r="8.68"/><circle cx="870.7" cy="939.6" r="8.68"/><circle cx="873.1" cy="942.0" r="8.68"/><circle cx="871.7" cy="944.4" r="8.68"/><circle cx="872.2" cy="952.0" r="8.68"/><circle cx="873.6" cy="962.0" r="8.68"/><circle cx="870.7" cy="972.0" r="8.68"/><circle cx="871.8" cy="981.6" r="8.68"/><circle cx="870.3" cy="984.0" r="8.68"/><circle cx="872.7" cy="986.4" r="8.68"/><circle cx="869.7" cy="989.0" r="8.68"/><circle cx="873.0" cy="994.0" r="8.68"/><circle cx="873.1" cy="1008.0" r="8.68"/><circle cx="873.0" cy="1010.0" r="8.68"/><circle cx="870.0" cy="1024.0" r="8.68"/><circle cx="973.4" cy="761.0" r="8.68"/><circle cx="976.2" cy="792.0" r="8.68"/><circle cx="974.2" cy="812.0" r="8.68"/><circle cx="974.6" cy="839.0" r="8.68"/><circle cx="975.4" cy="841.0" r="8.68"/><circle cx="973.4" cy="848.0" r="8.68"/><circle cx="975.8" cy="851.6" r="8.68"/><circle cx="973.0" cy="868.0" r="8.68"/><circle cx="973.0" cy="885.0" r="8.68"/><circle cx="974.2" cy="888.0" r="8.68"/><circle cx="974.4" cy="896.0" r="8.68"/><circle cx="975.0" cy="915.6" r="8.68"/><circle cx="973.6" cy="922.0" r="8.68"/><circle cx="975.9" cy="938.0" r="8.68"/><circle cx="976.9" cy="947.0" r="8.68"/><circle cx="975.1" cy="949.6" r="8.68"/><circle cx="975.9" cy="952.0" r="8.68"/><circle cx="976.3" cy="982.0" r="8.68"/><circle cx="973.8" cy="987.6" r="8.68"/><circle cx="976.8" cy="990.4" r="8.68"/><circle cx="975.5" cy="993.0" r="8.68"/><circle cx="973.8" cy="995.0" r="8.68"/><circle cx="973.3" cy="1000.0" r="8.68"/><circle cx="974.0" cy="1009.6" r="8.68"/><circle cx="975.3" cy="1012.4" r="8.68"/><circle cx="975.8" cy="1030.0" r="8.68"/><circle cx="974.3" cy="1049.6" r="8.68"/><circle cx="976.7" cy="1052.0" r="8.68"/><circle cx="974.4" cy="992.0" r="8.68"/><circle cx="1080.0" cy="753.0" r="8.68"/><circle cx="1078.0" cy="817.0" r="8.68"/><circle cx="1077.6" cy="824.4" r="8.68"/><circle cx="1077.2" cy="825.4" r="8.68"/><circle cx="1078.0" cy="826.4" r="8.68"/><circle cx="1079.0" cy="830.0" r="8.68"/><circle cx="1079.6" cy="872.0" r="8.68"/><circle cx="1077.9" cy="875.0" r="8.68"/><circle cx="1077.8" cy="877.6" r="8.68"/><circle cx="1078.7" cy="880.0" r="8.68"/><circle cx="1076.5" cy="882.4" r="8.68"/><circle cx="1076.5" cy="892.0" r="8.68"/><circle cx="1079.9" cy="903.6" r="8.68"/><circle cx="1077.6" cy="906.4" r="8.68"/><circle cx="1078.3" cy="909.2" r="8.68"/><circle cx="1080.1" cy="911.6" r="8.68"/><circle cx="1080.2" cy="929.6" r="8.68"/><circle cx="1078.2" cy="932.0" r="8.68"/><circle cx="1077.2" cy="934.4" r="8.68"/><circle cx="1077.5" cy="942.0" r="8.68"/><circle cx="1080.0" cy="952.0" r="8.68"/><circle cx="1079.9" cy="969.0" r="8.68"/><circle cx="1077.1" cy="971.6" r="8.68"/><circle cx="1079.7" cy="975.0" r="8.68"/><circle cx="1077.7" cy="980.4" r="8.68"/><circle cx="1078.2" cy="987.6" r="8.68"/><circle cx="1077.0" cy="991.0" r="8.68"/><circle cx="1079.9" cy="994.0" r="8.68"/><circle cx="1080.3" cy="997.0" r="8.68"/><circle cx="1077.1" cy="1004.0" r="8.68"/><circle cx="1076.4" cy="1031.0" r="8.68"/><circle cx="1079.0" cy="1036.0" r="8.68"/><circle cx="1181.8" cy="879.6" r="8.68"/><circle cx="1180.7" cy="882.0" r="8.68"/><circle cx="1182.0" cy="886.4" r="8.68"/><circle cx="1180.0" cy="889.0" r="8.68"/><circle cx="1182.9" cy="891.6" r="8.68"/><circle cx="1180.4" cy="894.0" r="8.68"/><circle cx="1180.7" cy="898.4" r="8.68"/><circle cx="1180.3" cy="904.0" r="8.68"/><circle cx="1182.4" cy="913.6" r="8.68"/><circle cx="1183.0" cy="916.4" r="8.68"/><circle cx="1182.8" cy="919.0" r="8.68"/><circle cx="1179.9" cy="940.0" r="8.68"/><circle cx="1181.3" cy="946.0" r="8.68"/><circle cx="1181.1" cy="955.6" r="8.68"/><circle cx="1180.5" cy="960.0" r="8.68"/><circle cx="1183.5" cy="973.0" r="8.68"/><circle cx="1179.8" cy="975.6" r="8.68"/><circle cx="1181.6" cy="978.0" r="8.68"/><circle cx="1182.7" cy="980.4" r="8.68"/><circle cx="1183.6" cy="992.0" r="8.68"/><circle cx="1180.2" cy="1005.6" r="8.68"/><circle cx="1181.5" cy="1019.0" r="8.68"/><circle cx="1182.6" cy="1021.0" r="8.68"/><circle cx="1179.8" cy="1022.4" r="8.68"/><circle cx="1180.6" cy="1024.0" r="8.68"/><circle cx="1183.2" cy="1025.6" r="8.68"/><circle cx="1180.0" cy="1039.0" r="8.68"/><circle cx="1180.2" cy="890.0" r="8.68"/><circle cx="1181.2" cy="977.2" r="8.68"/><circle cx="1180.9" cy="978.8" r="8.68"/><circle cx="1181.4" cy="1022.4" r="8.68"/><circle cx="1285.3" cy="967.0" r="8.68"/><circle cx="1286.2" cy="968.4" r="8.68"/><circle cx="1286.9" cy="969.6" r="8.68"/><circle cx="1284.2" cy="982.0" r="8.68"/><circle cx="1285.7" cy="992.0" r="8.68"/><circle cx="1286.7" cy="997.0" r="8.68"/><circle cx="1283.9" cy="999.2" r="8.68"/><circle cx="1285.8" cy="1001.6" r="8.68"/><circle cx="1285.7" cy="1008.0" r="8.68"/><circle cx="1286.8" cy="1013.0" r="8.68"/><circle cx="1286.5" cy="1015.6" r="8.68"/><circle cx="1283.9" cy="1017.6" r="8.68"/><circle cx="1285.5" cy="1019.6" r="8.68"/><circle cx="1283.4" cy="1026.0" r="8.68"/><circle cx="1284.7" cy="1034.0" r="8.68"/><circle cx="1284.6" cy="1043.0" r="8.68"/><circle cx="1283.2" cy="1045.0" r="8.68"/><circle cx="1284.5" cy="1047.0" r="8.68"/><circle cx="1284.3" cy="1049.0" r="8.68"/><circle cx="1286.6" cy="1054.0" r="8.68"/><circle cx="1285.0" cy="968.8" r="8.68"/><circle cx="1284.1" cy="998.4" r="8.68"/><circle cx="1283.6" cy="1000.4" r="8.68"/><circle cx="1284.6" cy="1015.0" r="8.68"/><circle cx="1284.9" cy="1017.0" r="8.68"/><circle cx="1283.7" cy="1046.0" r="8.68"/><circle cx="1388.8" cy="714.0" r="8.68"/><circle cx="1388.0" cy="747.0" r="8.68"/><circle cx="1388.2" cy="747.2" r="8.68"/><circle cx="1387.2" cy="849.0" r="8.68"/><circle cx="1388.4" cy="850.0" r="8.68"/><circle cx="1388.4" cy="867.0" r="8.68"/><circle cx="1389.5" cy="871.6" r="8.68"/><circle cx="1387.9" cy="873.6" r="8.68"/><circle cx="1389.2" cy="875.6" r="8.68"/><circle cx="1387.3" cy="877.6" r="8.68"/><circle cx="1389.2" cy="898.0" r="8.68"/><circle cx="1389.6" cy="904.0" r="8.68"/><circle cx="1387.6" cy="911.0" r="8.68"/><circle cx="1387.7" cy="912.4" r="8.68"/><circle cx="1389.4" cy="914.0" r="8.68"/><circle cx="1389.7" cy="922.0" r="8.68"/><circle cx="1389.6" cy="956.0" r="8.68"/><circle cx="1388.6" cy="960.4" r="8.68"/><circle cx="1388.0" cy="970.0" r="8.68"/><circle cx="1389.2" cy="975.6" r="8.68"/><circle cx="1388.8" cy="978.4" r="8.68"/><circle cx="1389.7" cy="986.0" r="8.68"/><circle cx="1389.5" cy="997.6" r="8.68"/><circle cx="1386.8" cy="1000.4" r="8.68"/><circle cx="1389.0" cy="1023.0" r="8.68"/><circle cx="1387.8" cy="1044.0" r="8.68"/><circle cx="1389.0" cy="1048.4" r="8.68"/><circle cx="1387.3" cy="1050.4" r="8.68"/><circle cx="1387.1" cy="1052.0" r="8.68"/><circle cx="1386.4" cy="1056.0" r="8.68"/></g>
<g class="d" fill="#d62728"><circle cx="267.8" cy="882.4" r="8.68"/><circle cx="269.6" cy="884.4" r="8.68"/><circle cx="268.8" cy="893.0" r="8.68"/><circle cx="266.6" cy="899.0" r="8.68"/><circle cx="270.2" cy="903.0" r="8.68"/><circle cx="267.1" cy="908.0" r="8.68"/><circle cx="267.2" cy="926.0" r="8.68"/><circle cx="269.3" cy="930.0" r="8.68"/><circle cx="267.5" cy="933.0" r="8.68"/><circle cx="267.4" cy="936.0" r="8.68"/><circle cx="266.5" cy="942.0" r="8.68"/><circle cx="266.6" cy="949.0" r="8.68"/><circle cx="268.5" cy="954.0" r="8.68"/><circle cx="267.2" cy="962.0" r="8.68"/><circle cx="268.6" cy="970.0" r="8.68"/><circle cx="267.7" cy="977.0" r="8.68"/><circle cx="268.0" cy="981.0" r="8.68"/><circle cx="270.0" cy="985.0" r="8.68"/><circle cx="268.1" cy="989.0" r="8.68"/><circle cx="268.5" cy="996.0" r="8.68"/><circle cx="269.7" cy="1000.0" r="8.68"/><circle cx="266.9" cy="1003.0" r="8.68"/><circle cx="266.8" cy="1006.0" r="8.68"/><circle cx="269.8" cy="1009.0" r="8.68"/><circle cx="269.5" cy="1014.0" r="8.68"/><circle cx="267.2" cy="1029.0" r="8.68"/><circle cx="267.0" cy="1031.0" r="8.68"/><circle cx="269.2" cy="1043.0" r="8.68"/><circle cx="372.6" cy="809.0" r="8.68"/><circle cx="372.2" cy="825.0" r="8.68"/><circle cx="371.0" cy="827.0" r="8.68"/><circle cx="370.8" cy="831.0" r="8.68"/><circle cx="372.2" cy="833.0" r="8.68"/><circle cx="370.3" cy="844.0" r="8.68"/><circle cx="371.3" cy="864.0" r="8.68"/><circle cx="372.8" cy="871.0" r="8.68"/><circle cx="373.2" cy="873.0" r="8.68"/><circle cx="373.1" cy="917.0" r="8.68"/><circle cx="371.1" cy="937.0" r="8.68"/><circle cx="371.9" cy="940.0" r="8.68"/><circle cx="370.8" cy="945.0" r="8.68"/><circle cx="370.1" cy="974.0" r="8.68"/><circle cx="371.5" cy="977.0" r="8.68"/><circle cx="372.9" cy="982.0" r="8.68"/><circle cx="372.9" cy="1006.0" r="8.68"/><circle cx="372.4" cy="1012.0" r="8.68"/><circle cx="373.3" cy="1018.0" r="8.68"/><circle cx="370.6" cy="1024.0" r="8.68"/><circle cx="370.2" cy="1031.0" r="8.68"/><circle cx="371.3" cy="1034.0" r="8.68"/><circle cx="370.6" cy="1036.0" r="8.68"/><circle cx="370.4" cy="1038.0" r="8.68"/><circle cx="371.2" cy="1050.0" r="8.68"/><circle cx="372.0" cy="1034.6" r="8.68"/><circle cx="371.5" cy="1036.0" r="8.68"/><circle cx="370.8" cy="1037.2" r="8.68"/><circle cx="473.2" cy="767.0" r="8.68"/><circle cx="473.6" cy="835.0" r="8.68"/><circle cx="476.5" cy="874.0" r="8.68"/><circle cx="473.7" cy="897.0" r="8.68"/><circle cx="476.3" cy="901.0" r="8.68"/><circle cx="476.7" cy="903.6" r="8.68"/><circle cx="475.0" cy="906.0" r="8.68"/><circle cx="475.2" cy="908.4" r="8.68"/><circle cx="473.7" cy="914.0" r="8.68"/><circle cx="475.0" cy="924.0" r="8.68"/><circle cx="474.9" cy="937.0" r="8.68"/><circle cx="475.3" cy="943.0" r="8.68"/><circle cx="473.0" cy="953.0" r="8.68"/><circle cx="476.7" cy="958.0" r="8.68"/><circle cx="474.9" cy="962.0" r="8.68"/><circle cx="474.5" cy="974.0" r="8.68"/><circle cx="476.1" cy="979.0" r="8.68"/><circle cx="475.1" cy="982.0" r="8.68"/><circle cx="474.8" cy="984.4" r="8.68"/><circle cx="475.6" cy="987.0" r="8.68"/><circle cx="473.1" cy="994.0" r="8.68"/><circle cx="475.0" cy="1008.0" r="8.68"/><circle cx="474.5" cy="1021.0" r="8.68"/><circle cx="476.7" cy="1026.0" r="8.68"/><circle cx="476.6" cy="1035.6" r="8.68"/><circle cx="473.9" cy="1037.6" r="8.68"/><circle cx="474.8" cy="1039.6" r="8.68"/><circle cx="473.4" cy="983.2" r="8.68"/><circle cx="474.6" cy="1038.0" r="8.68"/><circle cx="577.8" cy="882.0" r="8.68"/><circle cx="578.6" cy="887.6" r="8.68"/><circle cx="578.2" cy="916.0" r="8.68"/><circle cx="580.1" cy="917.6" r="8.68"/><circle cx="579.4" cy="919.0" r="8.68"/><circle cx="577.2" cy="931.0" r="8.68"/><circle cx="579.8" cy="934.0" r="8.68"/><circle cx="579.2" cy="961.0" r="8.68"/><circle cx="579.3" cy="965.0" r="8.68"/><circle cx="579.5" cy="971.0" r="8.68"/><circle cx="577.8" cy="977.0" r="8.68"/><circle cx="579.8" cy="983.0" r="8.68"/><circle cx="579.7" cy="995.0" r="8.68"/><circle cx="579.0" cy="1000.0" r="8.68"/><circle cx="579.3" cy="1003.0" r="8.68"/><circle cx="579.3" cy="1005.0" r="8.68"/><circle cx="577.8" cy="1007.0" r="8.68"/><circle cx="579.1" cy="1013.0" r="8.68"/><circle cx="576.5" cy="1017.0" r="8.68"/><circle cx="577.6" cy="1021.0" r="8.68"/><circle cx="578.1" cy="1024.0" r="8.68"/><circle cx="576.2" cy="1030.0" r="8.68"/><circle cx="577.6" cy="1041.0" r="8.68"/><circle cx="578.8" cy="1045.0" r="8.68"/><circle cx="578.7" cy="1048.4" r="8.68"/><circle cx="576.4" cy="1054.0" r="8.68"/><circle cx="577.1" cy="917.4" r="8.68"/><circle cx="580.0" cy="1004.4" r="8.68"/><circle cx="680.6" cy="929.6" r="8.68"/><circle cx="682.3" cy="933.0" r="8.68"/><circle cx="681.8" cy="936.4" r="8.68"/><circle cx="681.9" cy="939.2" r="8.68"/><circle cx="682.1" cy="942.0" r="8.68"/><circle cx="682.5" cy="944.4" r="8.68"/><circle cx="680.3" cy="950.4" r="8.68"/><circle cx="680.5" cy="958.0" r="8.68"/><circle cx="683.5" cy="964.0" r="8.68"/><circle cx="683.2" cy="973.6" r="8.68"/><circle cx="683.0" cy="977.0" r="8.68"/><circle cx="679.7" cy="980.0" r="8.68"/><circle cx="679.8" cy="983.0" r="8.68"/><circle cx="680.6" cy="985.0" r="8.68"/><circle cx="681.2" cy="992.0" r="8.68"/><circle cx="682.0" cy="999.6" r="8.68"/><circle cx="679.9" cy="1003.0" r="8.68"/><circle cx="681.7" cy="1005.6" r="8.68"/><circle cx="679.8" cy="1007.6" r="8.68"/><circle cx="679.4" cy="1022.0" r="8.68"/><circle cx="683.0" cy="1030.0" r="8.68"/><circle cx="681.6" cy="1044.0" r="8.68"/><circle cx="679.9" cy="938.0" r="8.68"/><circle cx="682.2" cy="941.0" r="8.68"/><circle cx="681.7" cy="982.4" r="8.68"/><circle cx="682.1" cy="1004.4" r="8.68"/><circle cx="786.0" cy="831.0" r="8.68"/><circle cx="787.0" cy="877.0" r="8.68"/><circle cx="785.2" cy="893.0" r="8.68"/><circle cx="785.1" cy="911.0" r="8.68"/><circle cx="786.0" cy="921.6" r="8.68"/><circle cx="783.2" cy="924.4" r="8.68"/><circle cx="783.2" cy="937.0" r="8.68"/><circle cx="785.8" cy="939.0" r="8.68"/><circle cx="786.5" cy="950.0" r="8.68"/><circle cx="783.2" cy="961.0" r="8.68"/><circle cx="785.4" cy="963.6" r="8.68"/><circle cx="783.4" cy="966.0" r="8.68"/><circle cx="785.8" cy="968.0" r="8.68"/><circle cx="785.5" cy="970.4" r="8.68"/><circle cx="783.8" cy="978.0" r="8.68"/><circle cx="783.7" cy="983.6" r="8.68"/><circle cx="785.9" cy="987.0" r="8.68"/><circle cx="785.0" cy="990.0" r="8.68"/><circle cx="785.9" cy="993.0" r="8.68"/><circle cx="784.0" cy="1009.0" r="8.68"/><circle cx="784.6" cy="1029.0" r="8.68"/><circle cx="784.4" cy="964.4" r="8.68"/><circle cx="784.2" cy="966.0" r="8.68"/><circle cx="786.7" cy="967.6" r="8.68"/><circle cx="785.6" cy="969.2" r="8.68"/><circle cx="887.2" cy="854.0" r="8.68"/><circle cx="887.6" cy="880.0" r="8.68"/><circle cx="887.3" cy="898.0" r="8.68"/><circle cx="889.1" cy="904.0" r="8.68"/><circle cx="886.6" cy="908.4" r="8.68"/><circle cx="888.1" cy="914.0" r="8.68"/><circle cx="888.1" cy="918.4" r="8.68"/><circle cx="890.0" cy="927.6" r="8.68"/><circle cx="888.5" cy="931.6" r="8.68"/><circle cx="889.6" cy="935.6" r="8.68"/><circle cx="887.4" cy="949.0" r="8.68"/><circle cx="889.4" cy="951.6" r="8.68"/><circle cx="887.9" cy="954.0" r="8.68"/><circle cx="889.9" cy="956.4" r="8.68"/><circle cx="886.6" cy="964.0" r="8.68"/><circle cx="889.5" cy="970.0" r="8.68"/><circle cx="887.0" cy="974.0" r="8.68"/><circle cx="888.4" cy="983.0" r="8.68"/><circle cx="888.3" cy="985.6" r="8.68"/><circle cx="886.8" cy="988.0" r="8.68"/><circle cx="889.5" cy="990.0" r="8.68"/><circle cx="887.4" cy="992.4" r="8.68"/><circle cx="887.4" cy="998.4" r="8.68"/><circle cx="886.5" cy="1003.6" r="8.68"/><circle cx="887.4" cy="1006.4" r="8.68"/><circle cx="888.1" cy="1020.0" r="8.68"/><circle cx="889.1" cy="953.2" r="8.68"/><circle cx="887.6" cy="989.2" r="8.68"/><circle cx="991.4" cy="860.0" r="8.68"/><circle cx="990.0" cy="880.4" r="8.68"/><circle cx="993.4" cy="883.0" r="8.68"/><circle cx="990.1" cy="885.2" r="8.68"/><circle cx="993.1" cy="887.2" r="8.68"/><circle cx="991.7" cy="894.0" r="8.68"/><circle cx="991.8" cy="898.4" r="8.68"/><circle cx="991.8" cy="906.0" r="8.68"/><circle cx="990.6" cy="914.0" r="8.68"/><circle cx="993.2" cy="918.4" r="8.68"/><circle cx="993.5" cy="934.0" r="8.68"/><circle cx="992.8" cy="945.6" r="8.68"/><circle cx="991.9" cy="948.0" r="8.68"/><circle cx="990.0" cy="951.0" r="8.68"/><circle cx="992.8" cy="971.6" r="8.68"/><circle cx="990.7" cy="978.0" r="8.68"/><circle cx="993.1" cy="991.6" r="8.68"/><circle cx="990.5" cy="996.0" r="8.68"/><circle cx="991.8" cy="1005.6" r="8.68"/><circle cx="992.9" cy="1008.4" r="8.68"/><circle cx="990.3" cy="1010.8" r="8.68"/><circle cx="991.7" cy="1013.2" r="8.68"/><circle cx="989.8" cy="1015.6" r="8.68"/><circle cx="989.7" cy="1022.0" r="8.68"/><circle cx="990.3" cy="1028.0" r="8.68"/><circle cx="993.5" cy="1036.0" r="8.68"/><circle cx="993.3" cy="1045.6" r="8.68"/><circle cx="992.2" cy="1048.4" r="8.68"/><circle cx="990.8" cy="884.0" r="8.68"/><circle cx="992.2" cy="1011.2" r="8.68"/><circle cx="1096.4" cy="829.6" r="8.68"/><circle cx="1095.0" cy="859.6" r="8.68"/><circle cx="1095.6" cy="862.4" r="8.68"/><circle cx="1094.4" cy="865.2" r="8.68"/><circle cx="1095.4" cy="872.0" r="8.68"/><circle cx="1093.6" cy="892.4" r="8.68"/><circle cx="1096.4" cy="896.0" r="8.68"/><circle cx="1093.1" cy="904.0" r="8.68"/><circle cx="1093.3" cy="913.6" r="8.68"/><circle cx="1095.8" cy="917.6" r="8.68"/><circle cx="1094.1" cy="921.6" r="8.68"/><circle cx="1096.5" cy="937.6" r="8.68"/><circle cx="1096.3" cy="942.0" r="8.68"/><circle cx="1095.7" cy="953.6" r="8.68"/><circle cx="1093.4" cy="956.4" r="8.68"/><circle cx="1095.7" cy="959.0" r="8.68"/><circle cx="1096.6" cy="961.6" r="8.68"/><circle cx="1094.6" cy="972.0" r="8.68"/><circle cx="1093.2" cy="985.6" r="8.68"/><circle cx="1093.8" cy="989.0" r="8.68"/><circle cx="1094.1" cy="1003.6" r="8.68"/><circle cx="1095.7" cy="1006.4" r="8.68"/><circle cx="1093.7" cy="1009.0" r="8.68"/><circle cx="1093.6" cy="1011.6" r="8.68"/><circle cx="1093.8" cy="1013.6" r="8.68"/><circle cx="1095.5" cy="1018.4" r="8.68"/><circle cx="1096.0" cy="1029.2" r="8.68"/><circle cx="1094.4" cy="1030.8" r="8.68"/><circle cx="1095.5" cy="1010.0" r="8.68"/><circle cx="1197.2" cy="851.0" r="8.68"/><circle cx="1199.0" cy="860.0" r="8.68"/><circle cx="1197.0" cy="868.0" r="8.68"/><circle cx="1199.0" cy="882.4" r="8.68"/><circle cx="1199.4" cy="883.6" r="8.68"/><circle cx="1196.5" cy="909.6" r="8.68"/><circle cx="1196.3" cy="913.0" r="8.68"/><circle cx="1200.2" cy="927.0" r="8.68"/><circle cx="1199.3" cy="929.6" r="8.68"/><circle cx="1199.1" cy="931.6" r="8.68"/><circle cx="1197.1" cy="956.0" r="8.68"/><circle cx="1197.2" cy="963.6" r="8.68"/><circle cx="1198.4" cy="967.0" r="8.68"/><circle cx="1197.2" cy="979.0" r="8.68"/><circle cx="1198.0" cy="981.6" r="8.68"/><circle cx="1199.9" cy="983.6" r="8.68"/><circle cx="1197.7" cy="986.0" r="8.68"/><circle cx="1197.5" cy="1000.0" r="8.68"/><circle cx="1200.1" cy="1013.0" r="8.68"/><circle cx="1198.6" cy="1015.6" r="8.68"/><circle cx="1196.4" cy="1017.6" r="8.68"/><circle cx="1197.8" cy="1019.6" r="8.68"/><circle cx="1198.8" cy="1021.6" r="8.68"/><circle cx="1196.4" cy="1028.4" r="8.68"/><circle cx="1197.6" cy="1031.0" r="8.68"/><circle cx="1199.0" cy="982.4" r="8.68"/><circle cx="1199.7" cy="984.0" r="8.68"/><circle cx="1198.6" cy="1017.0" r="8.68"/><circle cx="1199.7" cy="1019.0" r="8.68"/><circle cx="1302.6" cy="939.0" r="8.68"/><circle cx="1300.0" cy="945.6" r="8.68"/><circle cx="1302.2" cy="952.0" r="8.68"/><circle cx="1300.5" cy="958.4" r="8.68"/><circle cx="1299.9" cy="966.0" r="8.68"/><circle cx="1300.9" cy="973.6" r="8.68"/><circle cx="1301.2" cy="975.6" r="8.68"/><circle cx="1300.1" cy="977.6" r="8.68"/><circle cx="1301.9" cy="986.0" r="8.68"/><circle cx="1302.3" cy="994.0" r="8.68"/><circle cx="1301.7" cy="998.4" r="8.68"/><circle cx="1302.3" cy="1002.4" r="8.68"/><circle cx="1299.6" cy="1011.0" r="8.68"/><circle cx="1301.1" cy="1013.6" r="8.68"/><circle cx="1301.0" cy="1015.6" r="8.68"/><circle cx="1299.8" cy="1017.6" r="8.68"/><circle cx="1301.2" cy="1019.6" r="8.68"/><circle cx="1299.8" cy="1026.0" r="8.68"/><circle cx="1301.5" cy="1033.6" r="8.68"/><circle cx="1301.9" cy="1036.0" r="8.68"/><circle cx="1301.4" cy="1040.0" r="8.68"/><circle cx="1300.8" cy="1015.0" r="8.68"/><circle cx="1300.5" cy="1016.4" r="8.68"/><circle cx="1299.6" cy="1018.0" r="8.68"/><circle cx="1300.9" cy="976.0" r="8.68"/><circle cx="1404.0" cy="788.4" r="8.68"/><circle cx="1405.2" cy="790.0" r="8.68"/><circle cx="1406.4" cy="791.6" r="8.68"/><circle cx="1405.2" cy="877.0" r="8.68"/><circle cx="1406.6" cy="886.0" r="8.68"/><circle cx="1406.7" cy="890.0" r="8.68"/><circle cx="1403.4" cy="892.0" r="8.68"/><circle cx="1405.6" cy="894.0" r="8.68"/><circle cx="1404.5" cy="896.0" r="8.68"/><circle cx="1405.4" cy="900.4" r="8.68"/><circle cx="1404.5" cy="913.0" r="8.68"/><circle cx="1406.6" cy="916.4" r="8.68"/><circle cx="1406.8" cy="926.0" r="8.68"/><circle cx="1403.1" cy="932.4" r="8.68"/><circle cx="1405.7" cy="943.6" r="8.68"/><circle cx="1403.3" cy="947.0" r="8.68"/><circle cx="1403.0" cy="954.0" r="8.68"/><circle cx="1404.0" cy="961.0" r="8.68"/><circle cx="1405.8" cy="963.0" r="8.68"/><circle cx="1406.8" cy="965.0" r="8.68"/><circle cx="1403.3" cy="967.0" r="8.68"/><circle cx="1404.2" cy="974.0" r="8.68"/><circle cx="1403.0" cy="980.0" r="8.68"/><circle cx="1405.0" cy="995.6" r="8.68"/><circle cx="1404.8" cy="998.0" r="8.68"/><circle cx="1404.4" cy="1000.4" r="8.68"/><circle cx="1404.1" cy="1004.4" r="8.68"/><circle cx="1406.1" cy="1045.6" r="8.68"/><circle cx="1406.2" cy="1047.6" r="8.68"/><circle cx="1404.0" cy="1049.6" r="8.68"/><circle cx="1404.4" cy="1054.4" r="8.68"/></g>
<g class="d" fill="#9467bd"><circle cx="286.5" cy="881.0" r="8.68"/><circle cx="283.5" cy="891.0" r="8.68"/><circle cx="286.5" cy="895.0" r="8.68"/><circle cx="286.3" cy="898.0" r="8.68"/><circle cx="285.1" cy="901.0" r="8.68"/><circle cx="284.4" cy="923.0" r="8.68"/><circle cx="283.1" cy="929.0" r="8.68"/><circle cx="282.9" cy="932.0" r="8.68"/><circle cx="286.6" cy="935.0" r="8.68"/><circle cx="283.7" cy="940.0" r="8.68"/><circle cx="285.6" cy="952.0" r="8.68"/><circle cx="283.8" cy="956.0" r="8.68"/><circle cx="286.0" cy="962.0" r="8.68"/><circle cx="285.1" cy="967.0" r="8.68"/><circle cx="283.9" cy="972.0" r="8.68"/><circle cx="283.4" cy="977.0" r="8.68"/><circle cx="285.6" cy="982.0" r="8.68"/><circle cx="283.0" cy="985.0" r="8.68"/><circle cx="283.6" cy="988.0" r="8.68"/><circle cx="285.0" cy="992.0" r="8.68"/><circle cx="286.1" cy="1009.0" r="8.68"/><circle cx="285.2" cy="1011.0" r="8.68"/><circle cx="283.9" cy="1014.0" r="8.68"/><circle cx="286.4" cy="1030.0" r="8.68"/><circle cx="283.5" cy="1033.0" r="8.68"/><circle cx="282.8" cy="1050.0" r="8.68"/><circle cx="386.6" cy="742.0" r="8.68"/><circle cx="388.6" cy="742.0" r="8.68"/><circle cx="386.4" cy="803.0" r="8.68"/><circle cx="389.4" cy="821.0" r="8.68"/><circle cx="389.4" cy="827.0" r="8.68"/><circle cx="390.0" cy="828.4" r="8.68"/><circle cx="387.9" cy="846.0" r="8.68"/><circle cx="386.4" cy="860.0" r="8.68"/><circle cx="386.2" cy="864.0" r="8.68"/><circle cx="389.6" cy="867.0" r="8.68"/><circle cx="386.2" cy="876.0" r="8.68"/><circle cx="388.9" cy="905.0" r="8.68"/><circle cx="388.3" cy="922.0" r="8.68"/><circle cx="387.3" cy="923.0" r="8.68"/><circle cx="389.2" cy="957.0" r="8.68"/><circle cx="386.1" cy="972.0" r="8.68"/><circle cx="386.6" cy="974.0" r="8.68"/><circle cx="387.9" cy="977.0" r="8.68"/><circle cx="386.2" cy="1015.0" r="8.68"/><circle cx="389.4" cy="1017.0" r="8.68"/><circle cx="387.0" cy="1037.0" r="8.68"/><circle cx="386.6" cy="1038.4" r="8.68"/><circle cx="386.3" cy="1040.0" r="8.68"/><circle cx="388.6" cy="1041.2" r="8.68"/><circle cx="387.9" cy="1054.0" r="8.68"/><circle cx="388.6" cy="1038.8" r="8.68"/><circle cx="388.7" cy="1040.0" r="8.68"/><circle cx="389.3" cy="1041.0" r="8.68"/><circle cx="492.6" cy="720.0" r="8.68"/><circle cx="490.6" cy="812.0" r="8.68"/><circle cx="490.0" cy="849.6" r="8.68"/><circle cx="492.0" cy="852.4" r="8.68"/><circle cx="492.7" cy="875.0" r="8.68"/><circle cx="493.0" cy="877.6" r="8.68"/><circle cx="491.3" cy="880.0" r="8.68"/><circle cx="490.7" cy="888.0" r="8.68"/><circle cx="490.2" cy="897.0" r="8.68"/><circle cx="491.9" cy="899.6" r="8.68"/><circle cx="493.1" cy="902.0" r="8.68"/><circle cx="489.9" cy="914.0" r="8.68"/><circle cx="492.5" cy="922.0" r="8.68"/><circle cx="489.5" cy="940.0" r="8.68"/><circle cx="490.2" cy="954.0" r="8.68"/><circle cx="490.3" cy="958.0" r="8.68"/><circle cx="492.1" cy="961.0" r="8.68"/><circle cx="490.7" cy="964.0" r="8.68"/><circle cx="490.8" cy="967.6" r="8.68"/><circle cx="491.9" cy="974.0" r="8.68"/><circle cx="489.8" cy="984.0" r="8.68"/><circle cx="492.3" cy="998.4" r="8.68"/><circle cx="489.9" cy="1001.6" r="8.68"/><circle cx="491.4" cy="1012.0" r="8.68"/><circle cx="490.4" cy="1026.0" r="8.68"/><circle cx="490.2" cy="1028.4" r="8.68"/><circle cx="491.5" cy="1030.4" r="8.68"/><circle cx="491.1" cy="1040.0" r="8.68"/><circle cx="490.9" cy="962.0" r="8.68"/><circle cx="596.4" cy="866.0" r="8.68"/><circle cx="593.0" cy="871.0" r="8.68"/><circle cx="595.4" cy="912.0" r="8.68"/><circle cx="594.1" cy="915.0" r="8.68"/><circle cx="595.4" cy="917.6" r="8.68"/><circle cx="595.0" cy="923.0" r="8.68"/><circle cx="594.9" cy="928.0" r="8.68"/><circle cx="594.3" cy="932.0" r="8.68"/><circle cx="596.7" cy="938.0" r="8.68"/><circle cx="595.3" cy="946.0" r="8.68"/><circle cx="595.5" cy="956.4" r="8.68"/><circle cx="595.8" cy="960.0" r="8.68"/><circle cx="596.7" cy="962.4" r="8.68"/><circle cx="592.8" cy="965.0" r="8.68"/><circle cx="595.2" cy="972.0" r="8.68"/><circle cx="595.7" cy="978.4" r="8.68"/><circle cx="593.8" cy="986.0" r="8.68"/><circle cx="594.3" cy="994.0" r="8.68"/><circle cx="592.9" cy="1001.0" r="8.68"/><circle cx="593.5" cy="1003.6" r="8.68"/><circle cx="594.2" cy="1006.0" r="8.68"/><circle cx="593.1" cy="1012.0" r="8.68"/><circle cx="593.7" cy="1033.6" r="8.68"/><circle cx="596.4" cy="1035.2" r="8.68"/><circle cx="594.9" cy="1042.0" r="8.68"/><circle cx="594.8" cy="1034.4" r="8.68"/><circle cx="596.6" cy="1004.0" r="8.68"/><circle cx="595.0" cy="962.0" r="8.68"/><circle cx="699.4" cy="895.0" r="8.68"/><circle cx="697.6" cy="906.0" r="8.68"/><circle cx="698.0" cy="913.6" r="8.68"/><circle cx="696.9" cy="916.0" r="8.68"/><circle cx="697.4" cy="918.4" r="8.68"/><circle cx="699.0" cy="921.0" r="8.68"/><circle cx="699.4" cy="923.0" r="8.68"/><circle cx="696.4" cy="930.0" r="8.68"/><circle cx="696.5" cy="941.0" r="8.68"/><circle cx="699.3" cy="944.4" r="8.68"/><circle cx="698.6" cy="954.0" r="8.68"/><circle cx="699.1" cy="962.0" r="8.68"/><circle cx="696.9" cy="969.0" r="8.68"/><circle cx="697.8" cy="972.4" r="8.68"/><circle cx="697.1" cy="975.6" r="8.68"/><circle cx="699.3" cy="978.4" r="8.68"/><circle cx="697.5" cy="986.0" r="8.68"/><circle cx="698.7" cy="995.6" r="8.68"/><circle cx="700.0" cy="1004.0" r="8.68"/><circle cx="697.4" cy="1011.0" r="8.68"/><circle cx="698.3" cy="1014.0" r="8.68"/><circle cx="699.4" cy="1026.0" r="8.68"/><circle cx="697.0" cy="1039.0" r="8.68"/><circle cx="699.1" cy="918.4" r="8.68"/><circle cx="699.7" cy="974.0" r="8.68"/><circle cx="802.4" cy="845.0" r="8.68"/><circle cx="802.4" cy="872.0" r="8.68"/><circle cx="801.4" cy="888.0" r="8.68"/><circle cx="801.5" cy="900.0" r="8.68"/><circle cx="802.3" cy="907.0" r="8.68"/><circle cx="802.2" cy="909.6" r="8.68"/><circle cx="803.1" cy="912.0" r="8.68"/><circle cx="801.0" cy="918.0" r="8.68"/><circle cx="802.7" cy="928.0" r="8.68"/><circle cx="802.1" cy="942.0" r="8.68"/><circle cx="802.8" cy="951.0" r="8.68"/><circle cx="802.6" cy="954.0" r="8.68"/><circle cx="802.7" cy="957.6" r="8.68"/><circle cx="803.0" cy="961.0" r="8.68"/><circle cx="803.2" cy="964.0" r="8.68"/><circle cx="802.0" cy="967.6" r="8.68"/><circle cx="801.5" cy="974.0" r="8.68"/><circle cx="802.2" cy="982.0" r="8.68"/><circle cx="800.4" cy="995.0" r="8.68"/><circle cx="799.6" cy="997.0" r="8.68"/><circle cx="799.4" cy="1017.0" r="8.68"/><circle cx="802.6" cy="959.0" r="8.68"/><circle cx="801.1" cy="962.0" r="8.68"/><circle cx="801.1" cy="965.0" r="8.68"/><circle cx="906.0" cy="842.0" r="8.68"/><circle cx="904.4" cy="861.0" r="8.68"/><circle cx="903.0" cy="892.0" r="8.68"/><circle cx="905.5" cy="907.6" r="8.68"/><circle cx="903.2" cy="911.0" r="8.68"/><circle cx="904.3" cy="915.6" r="8.68"/><circle cx="904.6" cy="919.0" r="8.68"/><circle cx="906.6" cy="922.0" r="8.68"/><circle cx="906.1" cy="925.0" r="8.68"/><circle cx="905.3" cy="930.4" r="8.68"/><circle cx="902.8" cy="936.0" r="8.68"/><circle cx="904.2" cy="950.0" r="8.68"/><circle cx="905.6" cy="957.0" r="8.68"/><circle cx="903.7" cy="960.0" r="8.68"/><circle cx="905.0" cy="962.4" r="8.68"/><circle cx="904.6" cy="965.0" r="8.68"/><circle cx="902.8" cy="974.0" r="8.68"/><circle cx="906.7" cy="978.0" r="8.68"/><circle cx="905.9" cy="982.0" r="8.68"/><circle cx="903.6" cy="990.0" r="8.68"/><circle cx="905.2" cy="999.0" r="8.68"/><circle cx="903.9" cy="1001.0" r="8.68"/><circle cx="904.2" cy="1003.0" r="8.68"/><circle cx="904.9" cy="1008.4" r="8.68"/><circle cx="903.9" cy="1022.0" r="8.68"/><circle cx="904.1" cy="1001.2" r="8.68"/><circle cx="1009.0" cy="860.0" r="8.68"/><circle cx="1007.6" cy="867.6" r="8.68"/><circle cx="1008.4" cy="870.4" r="8.68"/><circle cx="1009.3" cy="880.0" r="8.68"/><circle cx="1006.1" cy="889.6" r="8.68"/><circle cx="1006.9" cy="892.8" r="8.68"/><circle cx="1007.9" cy="895.6" r="8.68"/><circle cx="1006.6" cy="904.0" r="8.68"/><circle cx="1007.6" cy="922.0" r="8.68"/><circle cx="1008.3" cy="933.6" r="8.68"/><circle cx="1006.8" cy="938.0" r="8.68"/><circle cx="1008.1" cy="946.0" r="8.68"/><circle cx="1007.1" cy="965.0" r="8.68"/><circle cx="1008.3" cy="968.0" r="8.68"/><circle cx="1007.4" cy="978.0" r="8.68"/><circle cx="1008.6" cy="991.0" r="8.68"/><circle cx="1006.2" cy="994.0" r="8.68"/><circle cx="1008.8" cy="996.4" r="8.68"/><circle cx="1006.6" cy="999.0" r="8.68"/><circle cx="1009.9" cy="1006.0" r="8.68"/><circle cx="1008.5" cy="1013.6" r="8.68"/><circle cx="1007.9" cy="1016.4" r="8.68"/><circle cx="1007.7" cy="1039.2" r="8.68"/><circle cx="1008.6" cy="1040.8" r="8.68"/><circle cx="1008.8" cy="995.6" r="8.68"/><circle cx="1111.4" cy="802.4" r="8.68"/><circle cx="1113.0" cy="827.0" r="8.68"/><circle cx="1111.0" cy="836.0" r="8.68"/><circle cx="1112.0" cy="843.0" r="8.68"/><circle cx="1112.4" cy="848.0" r="8.68"/><circle cx="1112.0" cy="852.0" r="8.68"/><circle cx="1112.9" cy="873.0" r="8.68"/><circle cx="1111.8" cy="881.0" r="8.68"/><circle cx="1110.3" cy="892.0" r="8.68"/><circle cx="1110.6" cy="904.0" r="8.68"/><circle cx="1113.1" cy="910.4" r="8.68"/><circle cx="1112.1" cy="914.0" r="8.68"/><circle cx="1110.5" cy="929.0" r="8.68"/><circle cx="1112.0" cy="931.2" r="8.68"/><circle cx="1109.8" cy="933.2" r="8.68"/><circle cx="1113.3" cy="935.2" r="8.68"/><circle cx="1111.2" cy="942.0" r="8.68"/><circle cx="1111.5" cy="952.0" r="8.68"/><circle cx="1111.5" cy="967.0" r="8.68"/><circle cx="1109.6" cy="969.2" r="8.68"/><circle cx="1111.8" cy="971.2" r="8.68"/><circle cx="1110.5" cy="973.2" r="8.68"/><circle cx="1110.4" cy="982.0" r="8.68"/><circle cx="1112.6" cy="990.0" r="8.68"/><circle cx="1109.7" cy="1012.0" r="8.68"/><circle cx="1110.5" cy="1014.4" r="8.68"/><circle cx="1112.4" cy="1019.0" r="8.68"/><circle cx="1110.4" cy="1028.0" r="8.68"/><circle cx="1110.5" cy="1036.0" r="8.68"/><circle cx="1111.6" cy="932.0" r="8.68"/><circle cx="1110.1" cy="970.0" r="8.68"/><circle cx="1216.4" cy="798.0" r="8.68"/><circle cx="1214.6" cy="855.0" r="8.68"/><circle cx="1214.3" cy="858.4" r="8.68"/><circle cx="1216.1" cy="861.0" r="8.68"/><circle cx="1214.3" cy="874.0" r="8.68"/><circle cx="1215.9" cy="897.2" r="8.68"/><circle cx="1213.6" cy="899.2" r="8.68"/><circle cx="1214.1" cy="912.0" r="8.68"/><circle cx="1213.5" cy="921.6" r="8.68"/><circle cx="1214.9" cy="928.0" r="8.68"/><circle cx="1213.4" cy="938.0" r="8.68"/><circle cx="1213.5" cy="945.0" r="8.68"/><circle cx="1213.6" cy="955.0" r="8.68"/><circle cx="1214.6" cy="957.6" r="8.68"/><circle cx="1214.0" cy="960.0" r="8.68"/><circle cx="1214.5" cy="973.6" r="8.68"/><circle cx="1216.7" cy="976.4" r="8.68"/><circle cx="1215.5" cy="993.6" r="8.68"/><circle cx="1216.2" cy="996.4" r="8.68"/><circle cx="1213.6" cy="1004.0" r="8.68"/><circle cx="1214.3" cy="1014.0" r="8.68"/><circle cx="1213.0" cy="1016.0" r="8.68"/><circle cx="1215.5" cy="1018.0" r="8.68"/><circle cx="1214.2" cy="1020.0" r="8.68"/><circle cx="1213.8" cy="1024.4" r="8.68"/><circle cx="1212.8" cy="1017.0" r="8.68"/><circle cx="1319.0" cy="933.0" r="8.68"/><circle cx="1319.6" cy="950.0" r="8.68"/><circle cx="1318.3" cy="954.0" r="8.68"/><circle cx="1317.1" cy="962.0" r="8.68"/><circle cx="1318.7" cy="970.0" r="8.68"/><circle cx="1316.8" cy="975.6" r="8.68"/><circle cx="1317.9" cy="977.6" r="8.68"/><circle cx="1318.5" cy="980.0" r="8.68"/><circle cx="1319.9" cy="986.0" r="8.68"/><circle cx="1317.5" cy="994.0" r="8.68"/><circle cx="1318.4" cy="1001.0" r="8.68"/><circle cx="1319.8" cy="1004.0" r="8.68"/><circle cx="1319.2" cy="1007.0" r="8.68"/><circle cx="1318.6" cy="1009.6" r="8.68"/><circle cx="1318.5" cy="1012.0" r="8.68"/><circle cx="1317.7" cy="1018.0" r="8.68"/><circle cx="1317.7" cy="1022.0" r="8.68"/><circle cx="1317.2" cy="1028.0" r="8.68"/><circle cx="1319.4" cy="1044.0" r="8.68"/><circle cx="1319.6" cy="1045.6" r="8.68"/><circle cx="1319.4" cy="1047.0" r="8.68"/><circle cx="1317.6" cy="1007.0" r="8.68"/><circle cx="1319.7" cy="1010.0" r="8.68"/><circle cx="1419.4" cy="812.0" r="8.68"/><circle cx="1422.0" cy="834.0" r="8.68"/><circle cx="1422.4" cy="870.0" r="8.68"/><circle cx="1421.9" cy="884.0" r="8.68"/><circle cx="1422.5" cy="890.0" r="8.68"/><circle cx="1423.3" cy="892.0" r="8.68"/><circle cx="1421.0" cy="894.0" r="8.68"/><circle cx="1422.2" cy="896.0" r="8.68"/><circle cx="1421.6" cy="902.0" r="8.68"/><circle cx="1422.6" cy="919.6" r="8.68"/><circle cx="1420.0" cy="921.6" r="8.68"/><circle cx="1420.1" cy="933.6" r="8.68"/><circle cx="1419.8" cy="936.4" r="8.68"/><circle cx="1423.1" cy="944.0" r="8.68"/><circle cx="1420.4" cy="961.0" r="8.68"/><circle cx="1421.4" cy="963.6" r="8.68"/><circle cx="1419.9" cy="966.0" r="8.68"/><circle cx="1420.7" cy="972.0" r="8.68"/><circle cx="1419.5" cy="981.6" r="8.68"/><circle cx="1421.7" cy="985.0" r="8.68"/><circle cx="1420.0" cy="992.0" r="8.68"/><circle cx="1421.9" cy="999.6" r="8.68"/><circle cx="1420.5" cy="1002.4" r="8.68"/><circle cx="1424.0" cy="1008.0" r="8.68"/><circle cx="1419.6" cy="1042.0" r="8.68"/><circle cx="1420.3" cy="1044.4" r="8.68"/><circle cx="1421.3" cy="1046.4" r="8.68"/><circle cx="1420.9" cy="1056.0" r="8.68"/></g>
</g>
<g transform="translate(0.5 0.5)">
<g stroke="#000" stroke-width="2.8" fill="none">
<path d="M251.67 1068v12.15"/><path d="M355.00 1068v12.15"/><path d="M458.33 1068v12.15"/><path d="M561.67 1068v12.15"/><path d="M665.00 1068v12.15"/><path d="M768.33 1068v12.15"/><path d="M871.67 1068v12.15"/><path d="M975.00 1068v12.15"/><path d="M1078.33 1068v12.15"/><path d="M1181.67 1068v12.15"/><path d="M1285.00 1068v12.15"/><path d="M1388.33 1068v12.15"/><path d="M200 1068.00h-12.15"/><path d="M200 944.80h-12.15"/><path d="M200 821.60h-12.15"/><path d="M200 698.40h-12.15"/><path d="M200 575.20h-12.15"/><path d="M200 452.00h-12.15"/><path d="M200 328.80h-12.15"/><path d="M200 205.60h-12.15"/>
<rect x="200" y="144" width="1240" height="924"/>
</g>
</g>
<g class="t" text-anchor="middle"><text x="251.67" y="1118.7">1</text><text x="355.00" y="1118.7">2</text><text x="458.33" y="1118.7">3</text><text x="561.67" y="1118.7">4</text><text x="665.00" y="1118.7">5</text><text x="768.33" y="1118.7">6</text><text x="871.67" y="1118.7">7</text><text x="975.00" y="1118.7">8</text><text x="1078.33" y="1118.7">9</text><text x="1181.67" y="1118.7">10</text><text x="1285.00" y="1118.7">11</text><text x="1388.33" y="1118.7">12</text><text x="820" y="1166.2">mesiace</text></g>
<g class="t" text-anchor="end"><text x="176.2" y="1081.19">0</text><text x="176.2" y="957.99">20</text><text x="176.2" y="834.79">40</text><text x="176.2" y="711.59">60</text><text x="176.2" y="588.39">80</text><text x="176.2" y="465.19">100</text><text x="176.2" y="341.99">120</text><text x="176.2" y="218.79">140</text></g>
<text x="820" y="123.2" text-anchor="middle" font-size="41.667">2023</text>
<g transform="translate(88.24 744.89) rotate(-90)"><text class="t"><tspan x="0" y="-3.39">PM</tspan><tspan x="51.23" y="2.31" font-size="24.306">10</tspan><tspan x="116.22" y="-3.39">(</tspan><tspan x="129.76" y="-3.39" font-style="oblique">μ</tspan><tspan x="151.85" y="-3.39" font-style="oblique">g</tspan><tspan x="173.90" y="-3.39">.</tspan><tspan x="191.70" y="-3.39" font-style="oblique">m</tspan><tspan x="227.13" y="-16.68" font-size="24.306">−3</tspan><tspan x="263.91" y="-3.39">)</tspan></text></g>
<rect x="763.00" y="161.60" width="660.00" height="318.70" rx="6.94" fill="#fff" fill-opacity="0.8" stroke="#ccc" stroke-opacity="0.8" stroke-width="3.472"/>
<text class="t" x="1054.70" y="201.60">AMS</text>
<circle cx="812.00" cy="244.60" r="12.20" fill="#1f77b4"/><text class="t" x="874.20" y="253.70">Bratislava, Jeséniova (SB)</text>
<circle cx="812.00" cy="295.60" r="12.20" fill="#ff7f0e"/><text class="t" x="874.20" y="304.70">Bratislava, Mamateyova (UB)</text>
<circle cx="812.00" cy="347.90" r="12.20" fill="#2ca02c"/><text class="t" x="874.20" y="357.00">Bratislava, Trnavské mýto (UT)</text>
<circle cx="812.00" cy="398.90" r="12.20" fill="#d62728"/><text class="t" x="874.20" y="408.00">Bratislava, Kamenné nám (UB)</text>
<circle cx="812.00" cy="449.90" r="12.20" fill="#9467bd"/><text class="t" x="874.20" y="459.00">Bratislava, Púchovská (UT)</text>
</svg>
</body></html>
